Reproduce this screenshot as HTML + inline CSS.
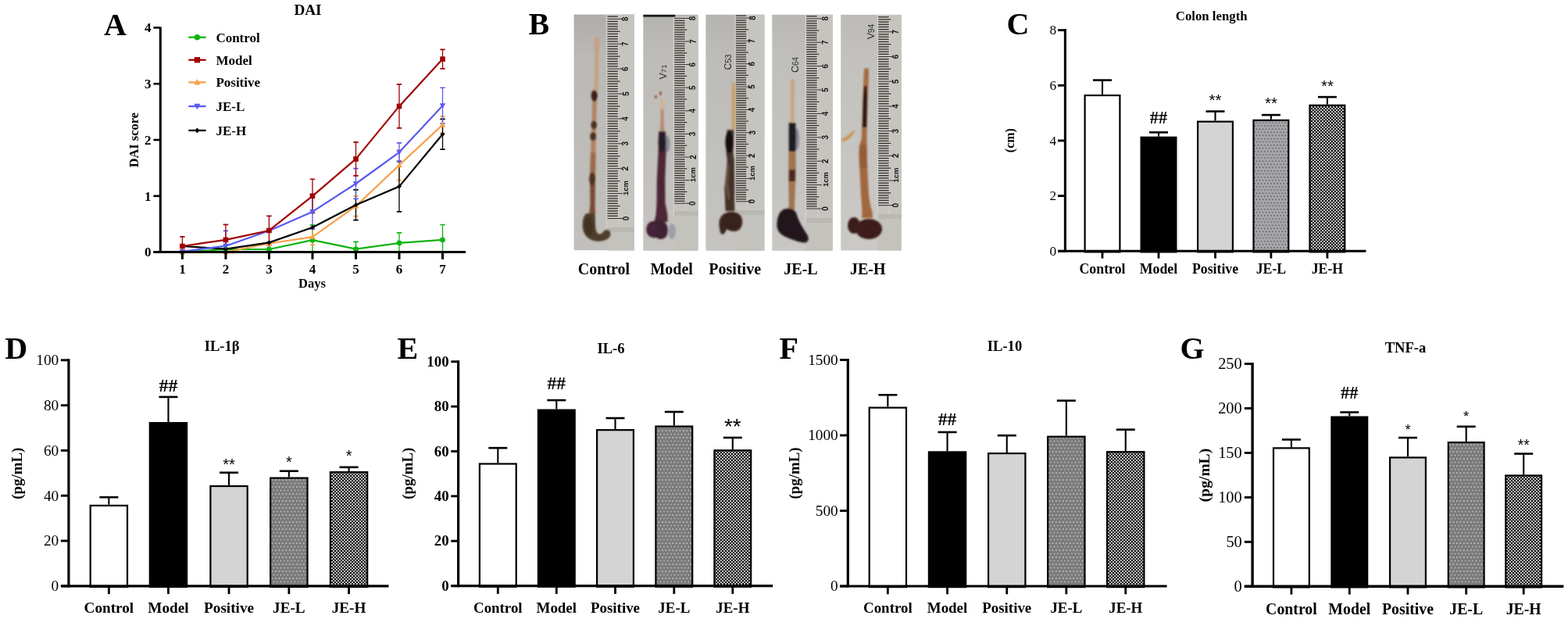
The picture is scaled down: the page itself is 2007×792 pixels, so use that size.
<!DOCTYPE html>
<html><head><meta charset="utf-8"><title>Figure</title>
<style>
html,body{margin:0;padding:0;background:#fff;width:2007px;height:792px;overflow:hidden}
svg{display:block}
text{font-family:"Liberation Serif","Times New Roman",serif}
</style></head><body>
<svg width="2007" height="792" viewBox="0 0 2007 792">

<defs>
<filter id="soft" x="-20%" y="-5%" width="140%" height="110%"><feGaussianBlur stdDeviation="0.9"/></filter>
<clipPath id="clipA"><rect x="205" y="20" width="400" height="302.6"/></clipPath>
<pattern id="dotsC" x="0" y="0" width="4.1" height="4.1" patternUnits="userSpaceOnUse">
 <rect width="4.1" height="4.1" fill="#a6a6aa"/>
 <rect x="0.6" y="0.6" width="1.3" height="1.3" fill="#505055"/>
</pattern>
<pattern id="dotsC2" x="0" y="0" width="4.1" height="8.2" patternUnits="userSpaceOnUse">
 <rect width="4.1" height="8.2" fill="#a6a6aa"/>
 <rect x="0.4" y="0.5" width="1.4" height="1.4" fill="#505055"/>
 <rect x="2.45" y="4.6" width="1.4" height="1.4" fill="#505055"/>
</pattern>
<pattern id="dotsW" x="0" y="0" width="4.5" height="9" patternUnits="userSpaceOnUse">
 <rect width="4.5" height="9" fill="#7c7c7c"/>
 <rect x="1.2" y="1.4" width="1.3" height="1.3" fill="#f4f4f4"/>
 <rect x="3.45" y="5.9" width="1.3" height="1.3" fill="#e0e0e0"/>
</pattern>
<pattern id="check" x="0" y="0" width="4" height="4" patternUnits="userSpaceOnUse">
 <rect width="4" height="4" fill="#bcbcbc"/>
 <rect x="0" y="0" width="2" height="2" fill="#111"/>
 <rect x="2" y="2" width="2" height="2" fill="#111"/>
</pattern>
<linearGradient id="tan" x1="0" y1="0" x2="1" y2="0">
 <stop offset="0" stop-color="#b98a66"/><stop offset="0.5" stop-color="#d8ad8c"/><stop offset="1" stop-color="#b08060"/>
</linearGradient>
</defs>
<rect width="2007" height="792" fill="#fff"/>
<text x="133" y="44.6" font-size="40" font-weight="bold" text-anchor="start" fill="#000">A</text>
<text x="394" y="19.4" font-size="19.2" font-weight="bold" text-anchor="middle" fill="#000">DAI</text>
<g clip-path="url(#clipA)">
<line x1="288.92" y1="329.06" x2="288.92" y2="308.96" stroke="#10b410" stroke-width="1.3"/>
<line x1="285.72" y1="308.96" x2="292.12" y2="308.96" stroke="#10b410" stroke-width="1.7"/>
<line x1="285.72" y1="329.06" x2="292.12" y2="329.06" stroke="#10b410" stroke-width="1.7"/>
<line x1="344.44" y1="328.34" x2="344.44" y2="309.68" stroke="#10b410" stroke-width="1.3"/>
<line x1="341.24" y1="309.68" x2="347.64" y2="309.68" stroke="#10b410" stroke-width="1.7"/>
<line x1="341.24" y1="328.34" x2="347.64" y2="328.34" stroke="#10b410" stroke-width="1.7"/>
<line x1="399.96" y1="326.55" x2="399.96" y2="287.78" stroke="#10b410" stroke-width="1.3"/>
<line x1="396.76" y1="287.78" x2="403.16" y2="287.78" stroke="#10b410" stroke-width="1.7"/>
<line x1="396.76" y1="326.55" x2="403.16" y2="326.55" stroke="#10b410" stroke-width="1.7"/>
<line x1="455.48" y1="327.99" x2="455.48" y2="309.32" stroke="#10b410" stroke-width="1.3"/>
<line x1="452.28" y1="309.32" x2="458.68" y2="309.32" stroke="#10b410" stroke-width="1.7"/>
<line x1="452.28" y1="327.99" x2="458.68" y2="327.99" stroke="#10b410" stroke-width="1.7"/>
<line x1="511" y1="323.82" x2="511" y2="297.97" stroke="#10b410" stroke-width="1.3"/>
<line x1="507.8" y1="297.97" x2="514.2" y2="297.97" stroke="#10b410" stroke-width="1.7"/>
<line x1="507.8" y1="323.82" x2="514.2" y2="323.82" stroke="#10b410" stroke-width="1.7"/>
<line x1="566.52" y1="326.26" x2="566.52" y2="287.49" stroke="#10b410" stroke-width="1.3"/>
<line x1="563.32" y1="287.49" x2="569.72" y2="287.49" stroke="#10b410" stroke-width="1.7"/>
<line x1="563.32" y1="326.26" x2="569.72" y2="326.26" stroke="#10b410" stroke-width="1.7"/>
<line x1="344.44" y1="329.42" x2="344.44" y2="293.52" stroke="#f8a048" stroke-width="1.3"/>
<line x1="341.24" y1="293.52" x2="347.64" y2="293.52" stroke="#f8a048" stroke-width="1.7"/>
<line x1="341.24" y1="329.42" x2="347.64" y2="329.42" stroke="#f8a048" stroke-width="1.7"/>
<line x1="399.96" y1="313.27" x2="399.96" y2="293.16" stroke="#f8a048" stroke-width="1.3"/>
<line x1="396.76" y1="293.16" x2="403.16" y2="293.16" stroke="#f8a048" stroke-width="1.7"/>
<line x1="396.76" y1="313.27" x2="403.16" y2="313.27" stroke="#f8a048" stroke-width="1.7"/>
<line x1="455.48" y1="276.65" x2="455.48" y2="250.8" stroke="#f8a048" stroke-width="1.3"/>
<line x1="452.28" y1="250.8" x2="458.68" y2="250.8" stroke="#f8a048" stroke-width="1.7"/>
<line x1="452.28" y1="276.65" x2="458.68" y2="276.65" stroke="#f8a048" stroke-width="1.7"/>
<line x1="511" y1="230.7" x2="511" y2="191.92" stroke="#f8a048" stroke-width="1.3"/>
<line x1="507.8" y1="191.92" x2="514.2" y2="191.92" stroke="#f8a048" stroke-width="1.7"/>
<line x1="507.8" y1="230.7" x2="514.2" y2="230.7" stroke="#f8a048" stroke-width="1.7"/>
<line x1="566.52" y1="170.38" x2="566.52" y2="148.84" stroke="#f8a048" stroke-width="1.3"/>
<line x1="563.32" y1="148.84" x2="569.72" y2="148.84" stroke="#f8a048" stroke-width="1.7"/>
<line x1="563.32" y1="170.38" x2="569.72" y2="170.38" stroke="#f8a048" stroke-width="1.7"/>
<line x1="455.48" y1="281.67" x2="455.48" y2="242.9" stroke="#000000" stroke-width="1.3"/>
<line x1="452.28" y1="242.9" x2="458.68" y2="242.9" stroke="#000000" stroke-width="1.7"/>
<line x1="452.28" y1="281.67" x2="458.68" y2="281.67" stroke="#000000" stroke-width="1.7"/>
<line x1="511" y1="270.9" x2="511" y2="206.28" stroke="#000000" stroke-width="1.3"/>
<line x1="507.8" y1="206.28" x2="514.2" y2="206.28" stroke="#000000" stroke-width="1.7"/>
<line x1="507.8" y1="270.9" x2="514.2" y2="270.9" stroke="#000000" stroke-width="1.7"/>
<line x1="566.52" y1="191.21" x2="566.52" y2="152.43" stroke="#000000" stroke-width="1.3"/>
<line x1="563.32" y1="152.43" x2="569.72" y2="152.43" stroke="#000000" stroke-width="1.7"/>
<line x1="563.32" y1="191.21" x2="569.72" y2="191.21" stroke="#000000" stroke-width="1.7"/>
<line x1="288.92" y1="334.09" x2="288.92" y2="295.32" stroke="#5a5af2" stroke-width="1.3"/>
<line x1="285.72" y1="295.32" x2="292.12" y2="295.32" stroke="#5a5af2" stroke-width="1.7"/>
<line x1="285.72" y1="334.09" x2="292.12" y2="334.09" stroke="#5a5af2" stroke-width="1.7"/>
<line x1="399.96" y1="293.16" x2="399.96" y2="248.65" stroke="#5a5af2" stroke-width="1.3"/>
<line x1="396.76" y1="248.65" x2="403.16" y2="248.65" stroke="#5a5af2" stroke-width="1.7"/>
<line x1="396.76" y1="293.16" x2="403.16" y2="293.16" stroke="#5a5af2" stroke-width="1.7"/>
<line x1="455.48" y1="254.39" x2="455.48" y2="215.62" stroke="#5a5af2" stroke-width="1.3"/>
<line x1="452.28" y1="215.62" x2="458.68" y2="215.62" stroke="#5a5af2" stroke-width="1.7"/>
<line x1="452.28" y1="254.39" x2="458.68" y2="254.39" stroke="#5a5af2" stroke-width="1.7"/>
<line x1="511" y1="206.64" x2="511" y2="182.95" stroke="#5a5af2" stroke-width="1.3"/>
<line x1="507.8" y1="182.95" x2="514.2" y2="182.95" stroke="#5a5af2" stroke-width="1.7"/>
<line x1="507.8" y1="206.64" x2="514.2" y2="206.64" stroke="#5a5af2" stroke-width="1.7"/>
<line x1="566.52" y1="158.18" x2="566.52" y2="112.23" stroke="#5a5af2" stroke-width="1.3"/>
<line x1="563.32" y1="112.23" x2="569.72" y2="112.23" stroke="#5a5af2" stroke-width="1.7"/>
<line x1="563.32" y1="158.18" x2="569.72" y2="158.18" stroke="#5a5af2" stroke-width="1.7"/>
<line x1="233.4" y1="327.2" x2="233.4" y2="302.78" stroke="#a00000" stroke-width="1.3"/>
<line x1="230.2" y1="302.78" x2="236.6" y2="302.78" stroke="#a00000" stroke-width="1.7"/>
<line x1="230.2" y1="327.2" x2="236.6" y2="327.2" stroke="#a00000" stroke-width="1.7"/>
<line x1="288.92" y1="326.19" x2="288.92" y2="287.42" stroke="#a00000" stroke-width="1.3"/>
<line x1="285.72" y1="287.42" x2="292.12" y2="287.42" stroke="#a00000" stroke-width="1.7"/>
<line x1="285.72" y1="326.19" x2="292.12" y2="326.19" stroke="#a00000" stroke-width="1.7"/>
<line x1="344.44" y1="313.62" x2="344.44" y2="276.29" stroke="#a00000" stroke-width="1.3"/>
<line x1="341.24" y1="276.29" x2="347.64" y2="276.29" stroke="#a00000" stroke-width="1.7"/>
<line x1="341.24" y1="313.62" x2="347.64" y2="313.62" stroke="#a00000" stroke-width="1.7"/>
<line x1="399.96" y1="272.34" x2="399.96" y2="229.26" stroke="#a00000" stroke-width="1.3"/>
<line x1="396.76" y1="229.26" x2="403.16" y2="229.26" stroke="#a00000" stroke-width="1.7"/>
<line x1="396.76" y1="272.34" x2="403.16" y2="272.34" stroke="#a00000" stroke-width="1.7"/>
<line x1="455.48" y1="224.95" x2="455.48" y2="181.87" stroke="#a00000" stroke-width="1.3"/>
<line x1="452.28" y1="181.87" x2="458.68" y2="181.87" stroke="#a00000" stroke-width="1.7"/>
<line x1="452.28" y1="224.95" x2="458.68" y2="224.95" stroke="#a00000" stroke-width="1.7"/>
<line x1="511" y1="163.92" x2="511" y2="107.92" stroke="#a00000" stroke-width="1.3"/>
<line x1="507.8" y1="107.92" x2="514.2" y2="107.92" stroke="#a00000" stroke-width="1.7"/>
<line x1="507.8" y1="163.92" x2="514.2" y2="163.92" stroke="#a00000" stroke-width="1.7"/>
<line x1="566.52" y1="87.81" x2="566.52" y2="63.4" stroke="#a00000" stroke-width="1.3"/>
<line x1="563.32" y1="63.4" x2="569.72" y2="63.4" stroke="#a00000" stroke-width="1.7"/>
<line x1="563.32" y1="87.81" x2="569.72" y2="87.81" stroke="#a00000" stroke-width="1.7"/>
</g>
<polyline points="233.4,322.6 288.92,319.01 344.44,319.01 399.96,307.16 455.48,318.65 511,310.9 566.52,306.88" fill="none" stroke="#10b410" stroke-width="2.2" stroke-linejoin="round"/>
<circle cx="233.4" cy="322.6" r="3.4" fill="#10b410"/>
<circle cx="288.92" cy="319.01" r="3.4" fill="#10b410"/>
<circle cx="344.44" cy="319.01" r="3.4" fill="#10b410"/>
<circle cx="399.96" cy="307.16" r="3.4" fill="#10b410"/>
<circle cx="455.48" cy="318.65" r="3.4" fill="#10b410"/>
<circle cx="511" cy="310.9" r="3.4" fill="#10b410"/>
<circle cx="566.52" cy="306.88" r="3.4" fill="#10b410"/>
<polyline points="233.4,322.6 288.92,322.6 344.44,311.47 399.96,303.21 455.48,263.72 511,211.31 566.52,159.61" fill="none" stroke="#f8a048" stroke-width="2.2" stroke-linejoin="round"/>
<polygon points="233.4,318.8 229.6,325.45 237.2,325.45" fill="#f8a048"/>
<polygon points="288.92,318.8 285.12,325.45 292.72,325.45" fill="#f8a048"/>
<polygon points="344.44,307.67 340.64,314.32 348.24,314.32" fill="#f8a048"/>
<polygon points="399.96,299.41 396.16,306.06 403.76,306.06" fill="#f8a048"/>
<polygon points="455.48,259.92 451.68,266.57 459.28,266.57" fill="#f8a048"/>
<polygon points="511,207.51 507.2,214.16 514.8,214.16" fill="#f8a048"/>
<polygon points="566.52,155.81 562.72,162.46 570.32,162.46" fill="#f8a048"/>
<polyline points="233.4,314.99 288.92,318.58 344.44,310.39 399.96,291.01 455.48,262.29 511,238.59 566.52,171.82" fill="none" stroke="#000000" stroke-width="2.2" stroke-linejoin="round"/>
<polygon points="233.4,311.99 236.4,314.99 233.4,317.99 230.4,314.99" fill="#000000"/>
<polygon points="288.92,315.58 291.92,318.58 288.92,321.58 285.92,318.58" fill="#000000"/>
<polygon points="344.44,307.39 347.44,310.39 344.44,313.39 341.44,310.39" fill="#000000"/>
<polygon points="399.96,288.01 402.96,291.01 399.96,294.01 396.96,291.01" fill="#000000"/>
<polygon points="455.48,259.29 458.48,262.29 455.48,265.29 452.48,262.29" fill="#000000"/>
<polygon points="511,235.59 514,238.59 511,241.59 508,238.59" fill="#000000"/>
<polygon points="566.52,168.82 569.52,171.82 566.52,174.82 563.52,171.82" fill="#000000"/>
<polyline points="233.4,321.88 288.92,314.7 344.44,295.32 399.96,270.9 455.48,235 511,194.8 566.52,135.2" fill="none" stroke="#5a5af2" stroke-width="2.2" stroke-linejoin="round"/>
<polygon points="233.4,325.68 229.6,319.03 237.2,319.03" fill="#5a5af2"/>
<polygon points="288.92,318.5 285.12,311.85 292.72,311.85" fill="#5a5af2"/>
<polygon points="344.44,299.12 340.64,292.47 348.24,292.47" fill="#5a5af2"/>
<polygon points="399.96,274.7 396.16,268.05 403.76,268.05" fill="#5a5af2"/>
<polygon points="455.48,238.8 451.68,232.15 459.28,232.15" fill="#5a5af2"/>
<polygon points="511,198.6 507.2,191.95 514.8,191.95" fill="#5a5af2"/>
<polygon points="566.52,139 562.72,132.35 570.32,132.35" fill="#5a5af2"/>
<polyline points="233.4,314.99 288.92,306.8 344.44,294.96 399.96,250.8 455.48,203.41 511,135.92 566.52,75.61" fill="none" stroke="#a00000" stroke-width="2.2" stroke-linejoin="round"/>
<rect x="230.1" y="311.69" width="6.6" height="6.6" fill="#a00000"/>
<rect x="285.62" y="303.5" width="6.6" height="6.6" fill="#a00000"/>
<rect x="341.14" y="291.66" width="6.6" height="6.6" fill="#a00000"/>
<rect x="396.66" y="247.5" width="6.6" height="6.6" fill="#a00000"/>
<rect x="452.18" y="200.11" width="6.6" height="6.6" fill="#a00000"/>
<rect x="507.7" y="132.62" width="6.6" height="6.6" fill="#a00000"/>
<rect x="563.22" y="72.31" width="6.6" height="6.6" fill="#a00000"/>
<line x1="205.3" y1="34.4" x2="205.3" y2="324.1" stroke="#000" stroke-width="3"/>
<line x1="196.4" y1="322.6" x2="596" y2="322.6" stroke="#000" stroke-width="3"/>
<line x1="196.4" y1="322.6" x2="205.3" y2="322.6" stroke="#000" stroke-width="2.6"/>
<text x="193.6" y="328.4" font-size="17" font-weight="bold" text-anchor="end" fill="#000">0</text>
<line x1="196.4" y1="250.8" x2="205.3" y2="250.8" stroke="#000" stroke-width="2.6"/>
<text x="193.6" y="256.6" font-size="17" font-weight="bold" text-anchor="end" fill="#000">1</text>
<line x1="196.4" y1="179" x2="205.3" y2="179" stroke="#000" stroke-width="2.6"/>
<text x="193.6" y="184.8" font-size="17" font-weight="bold" text-anchor="end" fill="#000">2</text>
<line x1="196.4" y1="107.2" x2="205.3" y2="107.2" stroke="#000" stroke-width="2.6"/>
<text x="193.6" y="113" font-size="17" font-weight="bold" text-anchor="end" fill="#000">3</text>
<line x1="196.4" y1="35.4" x2="205.3" y2="35.4" stroke="#000" stroke-width="2.6"/>
<text x="193.6" y="41.2" font-size="17" font-weight="bold" text-anchor="end" fill="#000">4</text>
<line x1="233.4" y1="322.6" x2="233.4" y2="331.8" stroke="#000" stroke-width="3"/>
<text x="233.4" y="350.2" font-size="17" font-weight="bold" text-anchor="middle" fill="#000">1</text>
<line x1="288.92" y1="322.6" x2="288.92" y2="331.8" stroke="#000" stroke-width="3"/>
<text x="288.92" y="350.2" font-size="17" font-weight="bold" text-anchor="middle" fill="#000">2</text>
<line x1="344.44" y1="322.6" x2="344.44" y2="331.8" stroke="#000" stroke-width="3"/>
<text x="344.44" y="350.2" font-size="17" font-weight="bold" text-anchor="middle" fill="#000">3</text>
<line x1="399.96" y1="322.6" x2="399.96" y2="331.8" stroke="#000" stroke-width="3"/>
<text x="399.96" y="350.2" font-size="17" font-weight="bold" text-anchor="middle" fill="#000">4</text>
<line x1="455.48" y1="322.6" x2="455.48" y2="331.8" stroke="#000" stroke-width="3"/>
<text x="455.48" y="350.2" font-size="17" font-weight="bold" text-anchor="middle" fill="#000">5</text>
<line x1="511" y1="322.6" x2="511" y2="331.8" stroke="#000" stroke-width="3"/>
<text x="511" y="350.2" font-size="17" font-weight="bold" text-anchor="middle" fill="#000">6</text>
<line x1="566.52" y1="322.6" x2="566.52" y2="331.8" stroke="#000" stroke-width="3"/>
<text x="566.52" y="350.2" font-size="17" font-weight="bold" text-anchor="middle" fill="#000">7</text>
<text x="399.5" y="367.8" font-size="16.5" font-weight="bold" text-anchor="middle" fill="#000">Days</text>
<text x="177.4" y="179.2" font-size="16.4" font-weight="bold" text-anchor="middle" fill="#000" transform="rotate(-90 177.4 179.2)">DAI score</text>
<line x1="241.3" y1="47.7" x2="263.6" y2="47.7" stroke="#10b410" stroke-width="2.3"/>
<circle cx="252.4" cy="47.7" r="3.74" fill="#10b410"/>
<text x="276.4" y="53.8" font-size="17" font-weight="bold" text-anchor="start" fill="#000">Control</text>
<line x1="241.3" y1="76.7" x2="263.6" y2="76.7" stroke="#a00000" stroke-width="2.3"/>
<rect x="248.77" y="73.07" width="7.26" height="7.26" fill="#a00000"/>
<text x="276.4" y="82.8" font-size="17" font-weight="bold" text-anchor="start" fill="#000">Model</text>
<line x1="241.3" y1="105.3" x2="263.6" y2="105.3" stroke="#f8a048" stroke-width="2.3"/>
<polygon points="252.4,101.12 248.22,108.44 256.58,108.44" fill="#f8a048"/>
<text x="276.4" y="111.4" font-size="17" font-weight="bold" text-anchor="start" fill="#000">Positive</text>
<line x1="241.3" y1="136" x2="263.6" y2="136" stroke="#5a5af2" stroke-width="2.3"/>
<polygon points="252.4,140.18 248.22,132.87 256.58,132.87" fill="#5a5af2"/>
<text x="276.4" y="142.1" font-size="17" font-weight="bold" text-anchor="start" fill="#000">JE-L</text>
<line x1="241.3" y1="166.9" x2="263.6" y2="166.9" stroke="#000000" stroke-width="2.3"/>
<polygon points="252.4,163.6 255.7,166.9 252.4,170.2 249.1,166.9" fill="#000000"/>
<text x="276.4" y="173" font-size="17" font-weight="bold" text-anchor="start" fill="#000">JE-H</text>
<text x="676.5" y="44.3" font-size="40" font-weight="bold" text-anchor="start" fill="#000">B</text>
<linearGradient id="pg0" x1="0" y1="0" x2="0" y2="1"><stop offset="0" stop-color="#afada9"/><stop offset="0.18" stop-color="#bbb9b5"/><stop offset="1" stop-color="#c2c0bc"/></linearGradient>
<rect x="734.6" y="18.6" width="77.4" height="301.6" fill="url(#pg0)"/>
<linearGradient id="pg1" x1="0" y1="0" x2="0" y2="1"><stop offset="0" stop-color="#b5b3af"/><stop offset="0.18" stop-color="#bebcb8"/><stop offset="1" stop-color="#c6c4c0"/></linearGradient>
<rect x="823.3" y="18.8" width="70.3" height="302" fill="url(#pg1)"/>
<linearGradient id="pg2" x1="0" y1="0" x2="0" y2="1"><stop offset="0" stop-color="#b6b4b0"/><stop offset="0.18" stop-color="#bebcb8"/><stop offset="1" stop-color="#c6c4c0"/></linearGradient>
<rect x="903.4" y="18.8" width="75" height="302" fill="url(#pg2)"/>
<linearGradient id="pg3" x1="0" y1="0" x2="0" y2="1"><stop offset="0" stop-color="#b8b7b4"/><stop offset="0.18" stop-color="#c0bfbc"/><stop offset="1" stop-color="#c8c7c4"/></linearGradient>
<rect x="988.3" y="18.8" width="77.5" height="302" fill="url(#pg3)"/>
<linearGradient id="pg4" x1="0" y1="0" x2="0" y2="1"><stop offset="0" stop-color="#bcbbb8"/><stop offset="0.18" stop-color="#c2c1be"/><stop offset="1" stop-color="#cac9c6"/></linearGradient>
<rect x="1076.2" y="18.9" width="77.6" height="301.6" fill="url(#pg4)"/>
<rect x="776.9" y="18.6" width="35.1" height="278.4" fill="#c6c4bf"/>
<rect x="791.2" y="18.6" width="1" height="272.4" fill="#d4d2cd"/>
<rect x="776.9" y="291" width="35.1" height="6" fill="#bab8b3"/>
<rect x="776.9" y="297" width="35.1" height="23.5" fill="#c4c2bd"/>
<rect x="775.8" y="18.6" width="1.4" height="278.4" fill="#d2d0cb"/>
<line x1="777.4" y1="279.5" x2="796.9" y2="279.5" stroke="#34322e" stroke-width="1"/>
<line x1="777.4" y1="276.31" x2="790.9" y2="276.31" stroke="#34322e" stroke-width="1.3"/>
<line x1="777.4" y1="273.12" x2="790.9" y2="273.12" stroke="#34322e" stroke-width="1.3"/>
<line x1="777.4" y1="269.93" x2="790.9" y2="269.93" stroke="#34322e" stroke-width="1.3"/>
<line x1="777.4" y1="266.74" x2="790.9" y2="266.74" stroke="#34322e" stroke-width="1.3"/>
<line x1="777.4" y1="263.55" x2="793.4" y2="263.55" stroke="#34322e" stroke-width="1.3"/>
<line x1="777.4" y1="260.36" x2="790.9" y2="260.36" stroke="#34322e" stroke-width="1.3"/>
<line x1="777.4" y1="257.17" x2="790.9" y2="257.17" stroke="#34322e" stroke-width="1.3"/>
<line x1="777.4" y1="253.98" x2="790.9" y2="253.98" stroke="#34322e" stroke-width="1.3"/>
<line x1="777.4" y1="250.79" x2="790.9" y2="250.79" stroke="#34322e" stroke-width="1.3"/>
<line x1="777.4" y1="247.6" x2="796.9" y2="247.6" stroke="#34322e" stroke-width="1"/>
<line x1="777.4" y1="244.41" x2="790.9" y2="244.41" stroke="#34322e" stroke-width="1.3"/>
<line x1="777.4" y1="241.22" x2="790.9" y2="241.22" stroke="#34322e" stroke-width="1.3"/>
<line x1="777.4" y1="238.03" x2="790.9" y2="238.03" stroke="#34322e" stroke-width="1.3"/>
<line x1="777.4" y1="234.84" x2="790.9" y2="234.84" stroke="#34322e" stroke-width="1.3"/>
<line x1="777.4" y1="231.65" x2="793.4" y2="231.65" stroke="#34322e" stroke-width="1.3"/>
<line x1="777.4" y1="228.46" x2="790.9" y2="228.46" stroke="#34322e" stroke-width="1.3"/>
<line x1="777.4" y1="225.27" x2="790.9" y2="225.27" stroke="#34322e" stroke-width="1.3"/>
<line x1="777.4" y1="222.08" x2="790.9" y2="222.08" stroke="#34322e" stroke-width="1.3"/>
<line x1="777.4" y1="218.89" x2="790.9" y2="218.89" stroke="#34322e" stroke-width="1.3"/>
<line x1="777.4" y1="215.7" x2="796.9" y2="215.7" stroke="#34322e" stroke-width="1"/>
<line x1="777.4" y1="212.51" x2="790.9" y2="212.51" stroke="#34322e" stroke-width="1.3"/>
<line x1="777.4" y1="209.32" x2="790.9" y2="209.32" stroke="#34322e" stroke-width="1.3"/>
<line x1="777.4" y1="206.13" x2="790.9" y2="206.13" stroke="#34322e" stroke-width="1.3"/>
<line x1="777.4" y1="202.94" x2="790.9" y2="202.94" stroke="#34322e" stroke-width="1.3"/>
<line x1="777.4" y1="199.75" x2="793.4" y2="199.75" stroke="#34322e" stroke-width="1.3"/>
<line x1="777.4" y1="196.56" x2="790.9" y2="196.56" stroke="#34322e" stroke-width="1.3"/>
<line x1="777.4" y1="193.37" x2="790.9" y2="193.37" stroke="#34322e" stroke-width="1.3"/>
<line x1="777.4" y1="190.18" x2="790.9" y2="190.18" stroke="#34322e" stroke-width="1.3"/>
<line x1="777.4" y1="186.99" x2="790.9" y2="186.99" stroke="#34322e" stroke-width="1.3"/>
<line x1="777.4" y1="183.8" x2="796.9" y2="183.8" stroke="#34322e" stroke-width="1"/>
<line x1="777.4" y1="180.61" x2="790.9" y2="180.61" stroke="#34322e" stroke-width="1.3"/>
<line x1="777.4" y1="177.42" x2="790.9" y2="177.42" stroke="#34322e" stroke-width="1.3"/>
<line x1="777.4" y1="174.23" x2="790.9" y2="174.23" stroke="#34322e" stroke-width="1.3"/>
<line x1="777.4" y1="171.04" x2="790.9" y2="171.04" stroke="#34322e" stroke-width="1.3"/>
<line x1="777.4" y1="167.85" x2="793.4" y2="167.85" stroke="#34322e" stroke-width="1.3"/>
<line x1="777.4" y1="164.66" x2="790.9" y2="164.66" stroke="#34322e" stroke-width="1.3"/>
<line x1="777.4" y1="161.47" x2="790.9" y2="161.47" stroke="#34322e" stroke-width="1.3"/>
<line x1="777.4" y1="158.28" x2="790.9" y2="158.28" stroke="#34322e" stroke-width="1.3"/>
<line x1="777.4" y1="155.09" x2="790.9" y2="155.09" stroke="#34322e" stroke-width="1.3"/>
<line x1="777.4" y1="151.9" x2="796.9" y2="151.9" stroke="#34322e" stroke-width="1"/>
<line x1="777.4" y1="148.71" x2="790.9" y2="148.71" stroke="#34322e" stroke-width="1.3"/>
<line x1="777.4" y1="145.52" x2="790.9" y2="145.52" stroke="#34322e" stroke-width="1.3"/>
<line x1="777.4" y1="142.33" x2="790.9" y2="142.33" stroke="#34322e" stroke-width="1.3"/>
<line x1="777.4" y1="139.14" x2="790.9" y2="139.14" stroke="#34322e" stroke-width="1.3"/>
<line x1="777.4" y1="135.95" x2="793.4" y2="135.95" stroke="#34322e" stroke-width="1.3"/>
<line x1="777.4" y1="132.76" x2="790.9" y2="132.76" stroke="#34322e" stroke-width="1.3"/>
<line x1="777.4" y1="129.57" x2="790.9" y2="129.57" stroke="#34322e" stroke-width="1.3"/>
<line x1="777.4" y1="126.38" x2="790.9" y2="126.38" stroke="#34322e" stroke-width="1.3"/>
<line x1="777.4" y1="123.19" x2="790.9" y2="123.19" stroke="#34322e" stroke-width="1.3"/>
<line x1="777.4" y1="120" x2="796.9" y2="120" stroke="#34322e" stroke-width="1"/>
<line x1="777.4" y1="116.81" x2="790.9" y2="116.81" stroke="#34322e" stroke-width="1.3"/>
<line x1="777.4" y1="113.62" x2="790.9" y2="113.62" stroke="#34322e" stroke-width="1.3"/>
<line x1="777.4" y1="110.43" x2="790.9" y2="110.43" stroke="#34322e" stroke-width="1.3"/>
<line x1="777.4" y1="107.24" x2="790.9" y2="107.24" stroke="#34322e" stroke-width="1.3"/>
<line x1="777.4" y1="104.05" x2="793.4" y2="104.05" stroke="#34322e" stroke-width="1.3"/>
<line x1="777.4" y1="100.86" x2="790.9" y2="100.86" stroke="#34322e" stroke-width="1.3"/>
<line x1="777.4" y1="97.67" x2="790.9" y2="97.67" stroke="#34322e" stroke-width="1.3"/>
<line x1="777.4" y1="94.48" x2="790.9" y2="94.48" stroke="#34322e" stroke-width="1.3"/>
<line x1="777.4" y1="91.29" x2="790.9" y2="91.29" stroke="#34322e" stroke-width="1.3"/>
<line x1="777.4" y1="88.1" x2="796.9" y2="88.1" stroke="#34322e" stroke-width="1"/>
<line x1="777.4" y1="84.91" x2="790.9" y2="84.91" stroke="#34322e" stroke-width="1.3"/>
<line x1="777.4" y1="81.72" x2="790.9" y2="81.72" stroke="#34322e" stroke-width="1.3"/>
<line x1="777.4" y1="78.53" x2="790.9" y2="78.53" stroke="#34322e" stroke-width="1.3"/>
<line x1="777.4" y1="75.34" x2="790.9" y2="75.34" stroke="#34322e" stroke-width="1.3"/>
<line x1="777.4" y1="72.15" x2="793.4" y2="72.15" stroke="#34322e" stroke-width="1.3"/>
<line x1="777.4" y1="68.96" x2="790.9" y2="68.96" stroke="#34322e" stroke-width="1.3"/>
<line x1="777.4" y1="65.77" x2="790.9" y2="65.77" stroke="#34322e" stroke-width="1.3"/>
<line x1="777.4" y1="62.58" x2="790.9" y2="62.58" stroke="#34322e" stroke-width="1.3"/>
<line x1="777.4" y1="59.39" x2="790.9" y2="59.39" stroke="#34322e" stroke-width="1.3"/>
<line x1="777.4" y1="56.2" x2="796.9" y2="56.2" stroke="#34322e" stroke-width="1"/>
<line x1="777.4" y1="53.01" x2="790.9" y2="53.01" stroke="#34322e" stroke-width="1.3"/>
<line x1="777.4" y1="49.82" x2="790.9" y2="49.82" stroke="#34322e" stroke-width="1.3"/>
<line x1="777.4" y1="46.63" x2="790.9" y2="46.63" stroke="#34322e" stroke-width="1.3"/>
<line x1="777.4" y1="43.44" x2="790.9" y2="43.44" stroke="#34322e" stroke-width="1.3"/>
<line x1="777.4" y1="40.25" x2="793.4" y2="40.25" stroke="#34322e" stroke-width="1.3"/>
<line x1="777.4" y1="37.06" x2="790.9" y2="37.06" stroke="#34322e" stroke-width="1.3"/>
<line x1="777.4" y1="33.87" x2="790.9" y2="33.87" stroke="#34322e" stroke-width="1.3"/>
<line x1="777.4" y1="30.68" x2="790.9" y2="30.68" stroke="#34322e" stroke-width="1.3"/>
<line x1="777.4" y1="27.49" x2="790.9" y2="27.49" stroke="#34322e" stroke-width="1.3"/>
<line x1="777.4" y1="24.3" x2="796.9" y2="24.3" stroke="#34322e" stroke-width="1"/>
<line x1="777.4" y1="21.11" x2="790.9" y2="21.11" stroke="#34322e" stroke-width="1.3"/>
<text x="801" y="279.5" font-size="10" font-weight="bold" text-anchor="middle" fill="#161616" transform="rotate(-90 801 279.5)" style='font-family:"Liberation Sans", Arial, sans-serif' dominant-baseline="central">0</text>
<text x="801" y="250.1" font-size="9.5" font-weight="bold" text-anchor="start" fill="#161616" transform="rotate(-90 801 250.1)" style='font-family:"Liberation Sans", Arial, sans-serif' dominant-baseline="central">1cm</text>
<text x="801" y="215.7" font-size="10" font-weight="bold" text-anchor="middle" fill="#161616" transform="rotate(-90 801 215.7)" style='font-family:"Liberation Sans", Arial, sans-serif' dominant-baseline="central">2</text>
<text x="801" y="183.8" font-size="10" font-weight="bold" text-anchor="middle" fill="#161616" transform="rotate(-90 801 183.8)" style='font-family:"Liberation Sans", Arial, sans-serif' dominant-baseline="central">3</text>
<text x="801" y="151.9" font-size="10" font-weight="bold" text-anchor="middle" fill="#161616" transform="rotate(-90 801 151.9)" style='font-family:"Liberation Sans", Arial, sans-serif' dominant-baseline="central">4</text>
<text x="801" y="120" font-size="10" font-weight="bold" text-anchor="middle" fill="#161616" transform="rotate(-90 801 120)" style='font-family:"Liberation Sans", Arial, sans-serif' dominant-baseline="central">5</text>
<text x="801" y="88.1" font-size="10" font-weight="bold" text-anchor="middle" fill="#161616" transform="rotate(-90 801 88.1)" style='font-family:"Liberation Sans", Arial, sans-serif' dominant-baseline="central">6</text>
<text x="801" y="56.2" font-size="10" font-weight="bold" text-anchor="middle" fill="#161616" transform="rotate(-90 801 56.2)" style='font-family:"Liberation Sans", Arial, sans-serif' dominant-baseline="central">7</text>
<text x="801" y="24.3" font-size="10" font-weight="bold" text-anchor="middle" fill="#161616" transform="rotate(-90 801 24.3)" style='font-family:"Liberation Sans", Arial, sans-serif' dominant-baseline="central">8</text>
<rect x="862.7" y="21" width="30.9" height="255" fill="#c6c4bf"/>
<rect x="877" y="21" width="1" height="249" fill="#d4d2cd"/>
<rect x="862.7" y="270" width="30.9" height="6" fill="#bab8b3"/>
<rect x="862.7" y="276" width="30.9" height="44.5" fill="#c4c2bd"/>
<rect x="861.6" y="21" width="1.4" height="255" fill="#d2d0cb"/>
<line x1="863.2" y1="260.2" x2="882.7" y2="260.2" stroke="#34322e" stroke-width="1"/>
<line x1="863.2" y1="257.24" x2="876.7" y2="257.24" stroke="#34322e" stroke-width="1.3"/>
<line x1="863.2" y1="254.28" x2="876.7" y2="254.28" stroke="#34322e" stroke-width="1.3"/>
<line x1="863.2" y1="251.32" x2="876.7" y2="251.32" stroke="#34322e" stroke-width="1.3"/>
<line x1="863.2" y1="248.36" x2="876.7" y2="248.36" stroke="#34322e" stroke-width="1.3"/>
<line x1="863.2" y1="245.4" x2="879.2" y2="245.4" stroke="#34322e" stroke-width="1.3"/>
<line x1="863.2" y1="242.44" x2="876.7" y2="242.44" stroke="#34322e" stroke-width="1.3"/>
<line x1="863.2" y1="239.48" x2="876.7" y2="239.48" stroke="#34322e" stroke-width="1.3"/>
<line x1="863.2" y1="236.52" x2="876.7" y2="236.52" stroke="#34322e" stroke-width="1.3"/>
<line x1="863.2" y1="233.56" x2="876.7" y2="233.56" stroke="#34322e" stroke-width="1.3"/>
<line x1="863.2" y1="230.6" x2="882.7" y2="230.6" stroke="#34322e" stroke-width="1"/>
<line x1="863.2" y1="227.64" x2="876.7" y2="227.64" stroke="#34322e" stroke-width="1.3"/>
<line x1="863.2" y1="224.68" x2="876.7" y2="224.68" stroke="#34322e" stroke-width="1.3"/>
<line x1="863.2" y1="221.72" x2="876.7" y2="221.72" stroke="#34322e" stroke-width="1.3"/>
<line x1="863.2" y1="218.76" x2="876.7" y2="218.76" stroke="#34322e" stroke-width="1.3"/>
<line x1="863.2" y1="215.8" x2="879.2" y2="215.8" stroke="#34322e" stroke-width="1.3"/>
<line x1="863.2" y1="212.84" x2="876.7" y2="212.84" stroke="#34322e" stroke-width="1.3"/>
<line x1="863.2" y1="209.88" x2="876.7" y2="209.88" stroke="#34322e" stroke-width="1.3"/>
<line x1="863.2" y1="206.92" x2="876.7" y2="206.92" stroke="#34322e" stroke-width="1.3"/>
<line x1="863.2" y1="203.96" x2="876.7" y2="203.96" stroke="#34322e" stroke-width="1.3"/>
<line x1="863.2" y1="201" x2="882.7" y2="201" stroke="#34322e" stroke-width="1"/>
<line x1="863.2" y1="198.04" x2="876.7" y2="198.04" stroke="#34322e" stroke-width="1.3"/>
<line x1="863.2" y1="195.08" x2="876.7" y2="195.08" stroke="#34322e" stroke-width="1.3"/>
<line x1="863.2" y1="192.12" x2="876.7" y2="192.12" stroke="#34322e" stroke-width="1.3"/>
<line x1="863.2" y1="189.16" x2="876.7" y2="189.16" stroke="#34322e" stroke-width="1.3"/>
<line x1="863.2" y1="186.2" x2="879.2" y2="186.2" stroke="#34322e" stroke-width="1.3"/>
<line x1="863.2" y1="183.24" x2="876.7" y2="183.24" stroke="#34322e" stroke-width="1.3"/>
<line x1="863.2" y1="180.28" x2="876.7" y2="180.28" stroke="#34322e" stroke-width="1.3"/>
<line x1="863.2" y1="177.32" x2="876.7" y2="177.32" stroke="#34322e" stroke-width="1.3"/>
<line x1="863.2" y1="174.36" x2="876.7" y2="174.36" stroke="#34322e" stroke-width="1.3"/>
<line x1="863.2" y1="171.4" x2="882.7" y2="171.4" stroke="#34322e" stroke-width="1"/>
<line x1="863.2" y1="168.44" x2="876.7" y2="168.44" stroke="#34322e" stroke-width="1.3"/>
<line x1="863.2" y1="165.48" x2="876.7" y2="165.48" stroke="#34322e" stroke-width="1.3"/>
<line x1="863.2" y1="162.52" x2="876.7" y2="162.52" stroke="#34322e" stroke-width="1.3"/>
<line x1="863.2" y1="159.56" x2="876.7" y2="159.56" stroke="#34322e" stroke-width="1.3"/>
<line x1="863.2" y1="156.6" x2="879.2" y2="156.6" stroke="#34322e" stroke-width="1.3"/>
<line x1="863.2" y1="153.64" x2="876.7" y2="153.64" stroke="#34322e" stroke-width="1.3"/>
<line x1="863.2" y1="150.68" x2="876.7" y2="150.68" stroke="#34322e" stroke-width="1.3"/>
<line x1="863.2" y1="147.72" x2="876.7" y2="147.72" stroke="#34322e" stroke-width="1.3"/>
<line x1="863.2" y1="144.76" x2="876.7" y2="144.76" stroke="#34322e" stroke-width="1.3"/>
<line x1="863.2" y1="141.8" x2="882.7" y2="141.8" stroke="#34322e" stroke-width="1"/>
<line x1="863.2" y1="138.84" x2="876.7" y2="138.84" stroke="#34322e" stroke-width="1.3"/>
<line x1="863.2" y1="135.88" x2="876.7" y2="135.88" stroke="#34322e" stroke-width="1.3"/>
<line x1="863.2" y1="132.92" x2="876.7" y2="132.92" stroke="#34322e" stroke-width="1.3"/>
<line x1="863.2" y1="129.96" x2="876.7" y2="129.96" stroke="#34322e" stroke-width="1.3"/>
<line x1="863.2" y1="127" x2="879.2" y2="127" stroke="#34322e" stroke-width="1.3"/>
<line x1="863.2" y1="124.04" x2="876.7" y2="124.04" stroke="#34322e" stroke-width="1.3"/>
<line x1="863.2" y1="121.08" x2="876.7" y2="121.08" stroke="#34322e" stroke-width="1.3"/>
<line x1="863.2" y1="118.12" x2="876.7" y2="118.12" stroke="#34322e" stroke-width="1.3"/>
<line x1="863.2" y1="115.16" x2="876.7" y2="115.16" stroke="#34322e" stroke-width="1.3"/>
<line x1="863.2" y1="112.2" x2="882.7" y2="112.2" stroke="#34322e" stroke-width="1"/>
<line x1="863.2" y1="109.24" x2="876.7" y2="109.24" stroke="#34322e" stroke-width="1.3"/>
<line x1="863.2" y1="106.28" x2="876.7" y2="106.28" stroke="#34322e" stroke-width="1.3"/>
<line x1="863.2" y1="103.32" x2="876.7" y2="103.32" stroke="#34322e" stroke-width="1.3"/>
<line x1="863.2" y1="100.36" x2="876.7" y2="100.36" stroke="#34322e" stroke-width="1.3"/>
<line x1="863.2" y1="97.4" x2="879.2" y2="97.4" stroke="#34322e" stroke-width="1.3"/>
<line x1="863.2" y1="94.44" x2="876.7" y2="94.44" stroke="#34322e" stroke-width="1.3"/>
<line x1="863.2" y1="91.48" x2="876.7" y2="91.48" stroke="#34322e" stroke-width="1.3"/>
<line x1="863.2" y1="88.52" x2="876.7" y2="88.52" stroke="#34322e" stroke-width="1.3"/>
<line x1="863.2" y1="85.56" x2="876.7" y2="85.56" stroke="#34322e" stroke-width="1.3"/>
<line x1="863.2" y1="82.6" x2="882.7" y2="82.6" stroke="#34322e" stroke-width="1"/>
<line x1="863.2" y1="79.64" x2="876.7" y2="79.64" stroke="#34322e" stroke-width="1.3"/>
<line x1="863.2" y1="76.68" x2="876.7" y2="76.68" stroke="#34322e" stroke-width="1.3"/>
<line x1="863.2" y1="73.72" x2="876.7" y2="73.72" stroke="#34322e" stroke-width="1.3"/>
<line x1="863.2" y1="70.76" x2="876.7" y2="70.76" stroke="#34322e" stroke-width="1.3"/>
<line x1="863.2" y1="67.8" x2="879.2" y2="67.8" stroke="#34322e" stroke-width="1.3"/>
<line x1="863.2" y1="64.84" x2="876.7" y2="64.84" stroke="#34322e" stroke-width="1.3"/>
<line x1="863.2" y1="61.88" x2="876.7" y2="61.88" stroke="#34322e" stroke-width="1.3"/>
<line x1="863.2" y1="58.92" x2="876.7" y2="58.92" stroke="#34322e" stroke-width="1.3"/>
<line x1="863.2" y1="55.96" x2="876.7" y2="55.96" stroke="#34322e" stroke-width="1.3"/>
<line x1="863.2" y1="53" x2="882.7" y2="53" stroke="#34322e" stroke-width="1"/>
<line x1="863.2" y1="50.04" x2="876.7" y2="50.04" stroke="#34322e" stroke-width="1.3"/>
<line x1="863.2" y1="47.08" x2="876.7" y2="47.08" stroke="#34322e" stroke-width="1.3"/>
<line x1="863.2" y1="44.12" x2="876.7" y2="44.12" stroke="#34322e" stroke-width="1.3"/>
<line x1="863.2" y1="41.16" x2="876.7" y2="41.16" stroke="#34322e" stroke-width="1.3"/>
<line x1="863.2" y1="38.2" x2="879.2" y2="38.2" stroke="#34322e" stroke-width="1.3"/>
<line x1="863.2" y1="35.24" x2="876.7" y2="35.24" stroke="#34322e" stroke-width="1.3"/>
<line x1="863.2" y1="32.28" x2="876.7" y2="32.28" stroke="#34322e" stroke-width="1.3"/>
<line x1="863.2" y1="29.32" x2="876.7" y2="29.32" stroke="#34322e" stroke-width="1.3"/>
<line x1="863.2" y1="26.36" x2="876.7" y2="26.36" stroke="#34322e" stroke-width="1.3"/>
<line x1="863.2" y1="23.4" x2="882.7" y2="23.4" stroke="#34322e" stroke-width="1"/>
<text x="887" y="260.2" font-size="10" font-weight="bold" text-anchor="middle" fill="#161616" transform="rotate(-90 887 260.2)" style='font-family:"Liberation Sans", Arial, sans-serif' dominant-baseline="central">0</text>
<text x="887" y="233.1" font-size="9.5" font-weight="bold" text-anchor="start" fill="#161616" transform="rotate(-90 887 233.1)" style='font-family:"Liberation Sans", Arial, sans-serif' dominant-baseline="central">1cm</text>
<text x="887" y="201" font-size="10" font-weight="bold" text-anchor="middle" fill="#161616" transform="rotate(-90 887 201)" style='font-family:"Liberation Sans", Arial, sans-serif' dominant-baseline="central">2</text>
<text x="887" y="171.4" font-size="10" font-weight="bold" text-anchor="middle" fill="#161616" transform="rotate(-90 887 171.4)" style='font-family:"Liberation Sans", Arial, sans-serif' dominant-baseline="central">3</text>
<text x="887" y="141.8" font-size="10" font-weight="bold" text-anchor="middle" fill="#161616" transform="rotate(-90 887 141.8)" style='font-family:"Liberation Sans", Arial, sans-serif' dominant-baseline="central">4</text>
<text x="887" y="112.2" font-size="10" font-weight="bold" text-anchor="middle" fill="#161616" transform="rotate(-90 887 112.2)" style='font-family:"Liberation Sans", Arial, sans-serif' dominant-baseline="central">5</text>
<text x="887" y="82.6" font-size="10" font-weight="bold" text-anchor="middle" fill="#161616" transform="rotate(-90 887 82.6)" style='font-family:"Liberation Sans", Arial, sans-serif' dominant-baseline="central">6</text>
<text x="887" y="53" font-size="10" font-weight="bold" text-anchor="middle" fill="#161616" transform="rotate(-90 887 53)" style='font-family:"Liberation Sans", Arial, sans-serif' dominant-baseline="central">7</text>
<text x="887" y="23.4" font-size="10" font-weight="bold" text-anchor="middle" fill="#161616" transform="rotate(-90 887 23.4)" style='font-family:"Liberation Sans", Arial, sans-serif' dominant-baseline="central">8</text>
<rect x="941.3" y="18.8" width="37.1" height="256.2" fill="#c6c4bf"/>
<rect x="955.6" y="18.8" width="1" height="250.2" fill="#d4d2cd"/>
<rect x="941.3" y="269" width="37.1" height="6" fill="#bab8b3"/>
<rect x="941.3" y="275" width="37.1" height="45.5" fill="#c4c2bd"/>
<rect x="940.2" y="18.8" width="1.4" height="256.2" fill="#d2d0cb"/>
<line x1="941.8" y1="257.8" x2="961.3" y2="257.8" stroke="#34322e" stroke-width="1"/>
<line x1="941.8" y1="254.87" x2="955.3" y2="254.87" stroke="#34322e" stroke-width="1.3"/>
<line x1="941.8" y1="251.93" x2="955.3" y2="251.93" stroke="#34322e" stroke-width="1.3"/>
<line x1="941.8" y1="249" x2="955.3" y2="249" stroke="#34322e" stroke-width="1.3"/>
<line x1="941.8" y1="246.06" x2="955.3" y2="246.06" stroke="#34322e" stroke-width="1.3"/>
<line x1="941.8" y1="243.12" x2="957.8" y2="243.12" stroke="#34322e" stroke-width="1.3"/>
<line x1="941.8" y1="240.19" x2="955.3" y2="240.19" stroke="#34322e" stroke-width="1.3"/>
<line x1="941.8" y1="237.25" x2="955.3" y2="237.25" stroke="#34322e" stroke-width="1.3"/>
<line x1="941.8" y1="234.32" x2="955.3" y2="234.32" stroke="#34322e" stroke-width="1.3"/>
<line x1="941.8" y1="231.39" x2="955.3" y2="231.39" stroke="#34322e" stroke-width="1.3"/>
<line x1="941.8" y1="228.45" x2="961.3" y2="228.45" stroke="#34322e" stroke-width="1"/>
<line x1="941.8" y1="225.52" x2="955.3" y2="225.52" stroke="#34322e" stroke-width="1.3"/>
<line x1="941.8" y1="222.58" x2="955.3" y2="222.58" stroke="#34322e" stroke-width="1.3"/>
<line x1="941.8" y1="219.65" x2="955.3" y2="219.65" stroke="#34322e" stroke-width="1.3"/>
<line x1="941.8" y1="216.71" x2="955.3" y2="216.71" stroke="#34322e" stroke-width="1.3"/>
<line x1="941.8" y1="213.78" x2="957.8" y2="213.78" stroke="#34322e" stroke-width="1.3"/>
<line x1="941.8" y1="210.84" x2="955.3" y2="210.84" stroke="#34322e" stroke-width="1.3"/>
<line x1="941.8" y1="207.91" x2="955.3" y2="207.91" stroke="#34322e" stroke-width="1.3"/>
<line x1="941.8" y1="204.97" x2="955.3" y2="204.97" stroke="#34322e" stroke-width="1.3"/>
<line x1="941.8" y1="202.04" x2="955.3" y2="202.04" stroke="#34322e" stroke-width="1.3"/>
<line x1="941.8" y1="199.1" x2="961.3" y2="199.1" stroke="#34322e" stroke-width="1"/>
<line x1="941.8" y1="196.17" x2="955.3" y2="196.17" stroke="#34322e" stroke-width="1.3"/>
<line x1="941.8" y1="193.23" x2="955.3" y2="193.23" stroke="#34322e" stroke-width="1.3"/>
<line x1="941.8" y1="190.3" x2="955.3" y2="190.3" stroke="#34322e" stroke-width="1.3"/>
<line x1="941.8" y1="187.36" x2="955.3" y2="187.36" stroke="#34322e" stroke-width="1.3"/>
<line x1="941.8" y1="184.43" x2="957.8" y2="184.43" stroke="#34322e" stroke-width="1.3"/>
<line x1="941.8" y1="181.49" x2="955.3" y2="181.49" stroke="#34322e" stroke-width="1.3"/>
<line x1="941.8" y1="178.56" x2="955.3" y2="178.56" stroke="#34322e" stroke-width="1.3"/>
<line x1="941.8" y1="175.62" x2="955.3" y2="175.62" stroke="#34322e" stroke-width="1.3"/>
<line x1="941.8" y1="172.69" x2="955.3" y2="172.69" stroke="#34322e" stroke-width="1.3"/>
<line x1="941.8" y1="169.75" x2="961.3" y2="169.75" stroke="#34322e" stroke-width="1"/>
<line x1="941.8" y1="166.81" x2="955.3" y2="166.81" stroke="#34322e" stroke-width="1.3"/>
<line x1="941.8" y1="163.88" x2="955.3" y2="163.88" stroke="#34322e" stroke-width="1.3"/>
<line x1="941.8" y1="160.94" x2="955.3" y2="160.94" stroke="#34322e" stroke-width="1.3"/>
<line x1="941.8" y1="158.01" x2="955.3" y2="158.01" stroke="#34322e" stroke-width="1.3"/>
<line x1="941.8" y1="155.07" x2="957.8" y2="155.07" stroke="#34322e" stroke-width="1.3"/>
<line x1="941.8" y1="152.14" x2="955.3" y2="152.14" stroke="#34322e" stroke-width="1.3"/>
<line x1="941.8" y1="149.21" x2="955.3" y2="149.21" stroke="#34322e" stroke-width="1.3"/>
<line x1="941.8" y1="146.27" x2="955.3" y2="146.27" stroke="#34322e" stroke-width="1.3"/>
<line x1="941.8" y1="143.34" x2="955.3" y2="143.34" stroke="#34322e" stroke-width="1.3"/>
<line x1="941.8" y1="140.4" x2="961.3" y2="140.4" stroke="#34322e" stroke-width="1"/>
<line x1="941.8" y1="137.47" x2="955.3" y2="137.47" stroke="#34322e" stroke-width="1.3"/>
<line x1="941.8" y1="134.53" x2="955.3" y2="134.53" stroke="#34322e" stroke-width="1.3"/>
<line x1="941.8" y1="131.6" x2="955.3" y2="131.6" stroke="#34322e" stroke-width="1.3"/>
<line x1="941.8" y1="128.66" x2="955.3" y2="128.66" stroke="#34322e" stroke-width="1.3"/>
<line x1="941.8" y1="125.73" x2="957.8" y2="125.73" stroke="#34322e" stroke-width="1.3"/>
<line x1="941.8" y1="122.79" x2="955.3" y2="122.79" stroke="#34322e" stroke-width="1.3"/>
<line x1="941.8" y1="119.86" x2="955.3" y2="119.86" stroke="#34322e" stroke-width="1.3"/>
<line x1="941.8" y1="116.92" x2="955.3" y2="116.92" stroke="#34322e" stroke-width="1.3"/>
<line x1="941.8" y1="113.99" x2="955.3" y2="113.99" stroke="#34322e" stroke-width="1.3"/>
<line x1="941.8" y1="111.05" x2="961.3" y2="111.05" stroke="#34322e" stroke-width="1"/>
<line x1="941.8" y1="108.12" x2="955.3" y2="108.12" stroke="#34322e" stroke-width="1.3"/>
<line x1="941.8" y1="105.18" x2="955.3" y2="105.18" stroke="#34322e" stroke-width="1.3"/>
<line x1="941.8" y1="102.25" x2="955.3" y2="102.25" stroke="#34322e" stroke-width="1.3"/>
<line x1="941.8" y1="99.31" x2="955.3" y2="99.31" stroke="#34322e" stroke-width="1.3"/>
<line x1="941.8" y1="96.38" x2="957.8" y2="96.38" stroke="#34322e" stroke-width="1.3"/>
<line x1="941.8" y1="93.44" x2="955.3" y2="93.44" stroke="#34322e" stroke-width="1.3"/>
<line x1="941.8" y1="90.5" x2="955.3" y2="90.5" stroke="#34322e" stroke-width="1.3"/>
<line x1="941.8" y1="87.57" x2="955.3" y2="87.57" stroke="#34322e" stroke-width="1.3"/>
<line x1="941.8" y1="84.64" x2="955.3" y2="84.64" stroke="#34322e" stroke-width="1.3"/>
<line x1="941.8" y1="81.7" x2="961.3" y2="81.7" stroke="#34322e" stroke-width="1"/>
<line x1="941.8" y1="78.77" x2="955.3" y2="78.77" stroke="#34322e" stroke-width="1.3"/>
<line x1="941.8" y1="75.83" x2="955.3" y2="75.83" stroke="#34322e" stroke-width="1.3"/>
<line x1="941.8" y1="72.9" x2="955.3" y2="72.9" stroke="#34322e" stroke-width="1.3"/>
<line x1="941.8" y1="69.96" x2="955.3" y2="69.96" stroke="#34322e" stroke-width="1.3"/>
<line x1="941.8" y1="67.03" x2="957.8" y2="67.03" stroke="#34322e" stroke-width="1.3"/>
<line x1="941.8" y1="64.09" x2="955.3" y2="64.09" stroke="#34322e" stroke-width="1.3"/>
<line x1="941.8" y1="61.16" x2="955.3" y2="61.16" stroke="#34322e" stroke-width="1.3"/>
<line x1="941.8" y1="58.22" x2="955.3" y2="58.22" stroke="#34322e" stroke-width="1.3"/>
<line x1="941.8" y1="55.28" x2="955.3" y2="55.28" stroke="#34322e" stroke-width="1.3"/>
<line x1="941.8" y1="52.35" x2="961.3" y2="52.35" stroke="#34322e" stroke-width="1"/>
<line x1="941.8" y1="49.42" x2="955.3" y2="49.42" stroke="#34322e" stroke-width="1.3"/>
<line x1="941.8" y1="46.48" x2="955.3" y2="46.48" stroke="#34322e" stroke-width="1.3"/>
<line x1="941.8" y1="43.55" x2="955.3" y2="43.55" stroke="#34322e" stroke-width="1.3"/>
<line x1="941.8" y1="40.61" x2="955.3" y2="40.61" stroke="#34322e" stroke-width="1.3"/>
<line x1="941.8" y1="37.68" x2="957.8" y2="37.68" stroke="#34322e" stroke-width="1.3"/>
<line x1="941.8" y1="34.74" x2="955.3" y2="34.74" stroke="#34322e" stroke-width="1.3"/>
<line x1="941.8" y1="31.81" x2="955.3" y2="31.81" stroke="#34322e" stroke-width="1.3"/>
<line x1="941.8" y1="28.87" x2="955.3" y2="28.87" stroke="#34322e" stroke-width="1.3"/>
<line x1="941.8" y1="25.94" x2="955.3" y2="25.94" stroke="#34322e" stroke-width="1.3"/>
<line x1="941.8" y1="23" x2="961.3" y2="23" stroke="#34322e" stroke-width="1"/>
<line x1="941.8" y1="20.06" x2="955.3" y2="20.06" stroke="#34322e" stroke-width="1.3"/>
<text x="963" y="257.8" font-size="10" font-weight="bold" text-anchor="middle" fill="#161616" transform="rotate(-90 963 257.8)" style='font-family:"Liberation Sans", Arial, sans-serif' dominant-baseline="central">0</text>
<text x="963" y="230.95" font-size="9.5" font-weight="bold" text-anchor="start" fill="#161616" transform="rotate(-90 963 230.95)" style='font-family:"Liberation Sans", Arial, sans-serif' dominant-baseline="central">1cm</text>
<text x="963" y="199.1" font-size="10" font-weight="bold" text-anchor="middle" fill="#161616" transform="rotate(-90 963 199.1)" style='font-family:"Liberation Sans", Arial, sans-serif' dominant-baseline="central">2</text>
<text x="963" y="169.75" font-size="10" font-weight="bold" text-anchor="middle" fill="#161616" transform="rotate(-90 963 169.75)" style='font-family:"Liberation Sans", Arial, sans-serif' dominant-baseline="central">3</text>
<text x="963" y="140.4" font-size="10" font-weight="bold" text-anchor="middle" fill="#161616" transform="rotate(-90 963 140.4)" style='font-family:"Liberation Sans", Arial, sans-serif' dominant-baseline="central">4</text>
<text x="963" y="111.05" font-size="10" font-weight="bold" text-anchor="middle" fill="#161616" transform="rotate(-90 963 111.05)" style='font-family:"Liberation Sans", Arial, sans-serif' dominant-baseline="central">5</text>
<text x="963" y="81.7" font-size="10" font-weight="bold" text-anchor="middle" fill="#161616" transform="rotate(-90 963 81.7)" style='font-family:"Liberation Sans", Arial, sans-serif' dominant-baseline="central">6</text>
<text x="963" y="52.35" font-size="10" font-weight="bold" text-anchor="middle" fill="#161616" transform="rotate(-90 963 52.35)" style='font-family:"Liberation Sans", Arial, sans-serif' dominant-baseline="central">7</text>
<text x="963" y="23" font-size="10" font-weight="bold" text-anchor="middle" fill="#161616" transform="rotate(-90 963 23)" style='font-family:"Liberation Sans", Arial, sans-serif' dominant-baseline="central">8</text>
<rect x="1031.7" y="18.8" width="34.1" height="266.2" fill="#c6c4bf"/>
<rect x="1046" y="18.8" width="1" height="260.2" fill="#d4d2cd"/>
<rect x="1031.7" y="279" width="34.1" height="6" fill="#bab8b3"/>
<rect x="1031.7" y="285" width="34.1" height="35.5" fill="#c4c2bd"/>
<rect x="1030.6" y="18.8" width="1.4" height="266.2" fill="#d2d0cb"/>
<line x1="1032.2" y1="267" x2="1051.7" y2="267" stroke="#34322e" stroke-width="1"/>
<line x1="1032.2" y1="263.96" x2="1045.7" y2="263.96" stroke="#34322e" stroke-width="1.3"/>
<line x1="1032.2" y1="260.92" x2="1045.7" y2="260.92" stroke="#34322e" stroke-width="1.3"/>
<line x1="1032.2" y1="257.88" x2="1045.7" y2="257.88" stroke="#34322e" stroke-width="1.3"/>
<line x1="1032.2" y1="254.84" x2="1045.7" y2="254.84" stroke="#34322e" stroke-width="1.3"/>
<line x1="1032.2" y1="251.8" x2="1048.2" y2="251.8" stroke="#34322e" stroke-width="1.3"/>
<line x1="1032.2" y1="248.76" x2="1045.7" y2="248.76" stroke="#34322e" stroke-width="1.3"/>
<line x1="1032.2" y1="245.72" x2="1045.7" y2="245.72" stroke="#34322e" stroke-width="1.3"/>
<line x1="1032.2" y1="242.68" x2="1045.7" y2="242.68" stroke="#34322e" stroke-width="1.3"/>
<line x1="1032.2" y1="239.64" x2="1045.7" y2="239.64" stroke="#34322e" stroke-width="1.3"/>
<line x1="1032.2" y1="236.6" x2="1051.7" y2="236.6" stroke="#34322e" stroke-width="1"/>
<line x1="1032.2" y1="233.56" x2="1045.7" y2="233.56" stroke="#34322e" stroke-width="1.3"/>
<line x1="1032.2" y1="230.52" x2="1045.7" y2="230.52" stroke="#34322e" stroke-width="1.3"/>
<line x1="1032.2" y1="227.48" x2="1045.7" y2="227.48" stroke="#34322e" stroke-width="1.3"/>
<line x1="1032.2" y1="224.44" x2="1045.7" y2="224.44" stroke="#34322e" stroke-width="1.3"/>
<line x1="1032.2" y1="221.4" x2="1048.2" y2="221.4" stroke="#34322e" stroke-width="1.3"/>
<line x1="1032.2" y1="218.36" x2="1045.7" y2="218.36" stroke="#34322e" stroke-width="1.3"/>
<line x1="1032.2" y1="215.32" x2="1045.7" y2="215.32" stroke="#34322e" stroke-width="1.3"/>
<line x1="1032.2" y1="212.28" x2="1045.7" y2="212.28" stroke="#34322e" stroke-width="1.3"/>
<line x1="1032.2" y1="209.24" x2="1045.7" y2="209.24" stroke="#34322e" stroke-width="1.3"/>
<line x1="1032.2" y1="206.2" x2="1051.7" y2="206.2" stroke="#34322e" stroke-width="1"/>
<line x1="1032.2" y1="203.16" x2="1045.7" y2="203.16" stroke="#34322e" stroke-width="1.3"/>
<line x1="1032.2" y1="200.12" x2="1045.7" y2="200.12" stroke="#34322e" stroke-width="1.3"/>
<line x1="1032.2" y1="197.08" x2="1045.7" y2="197.08" stroke="#34322e" stroke-width="1.3"/>
<line x1="1032.2" y1="194.04" x2="1045.7" y2="194.04" stroke="#34322e" stroke-width="1.3"/>
<line x1="1032.2" y1="191" x2="1048.2" y2="191" stroke="#34322e" stroke-width="1.3"/>
<line x1="1032.2" y1="187.96" x2="1045.7" y2="187.96" stroke="#34322e" stroke-width="1.3"/>
<line x1="1032.2" y1="184.92" x2="1045.7" y2="184.92" stroke="#34322e" stroke-width="1.3"/>
<line x1="1032.2" y1="181.88" x2="1045.7" y2="181.88" stroke="#34322e" stroke-width="1.3"/>
<line x1="1032.2" y1="178.84" x2="1045.7" y2="178.84" stroke="#34322e" stroke-width="1.3"/>
<line x1="1032.2" y1="175.8" x2="1051.7" y2="175.8" stroke="#34322e" stroke-width="1"/>
<line x1="1032.2" y1="172.76" x2="1045.7" y2="172.76" stroke="#34322e" stroke-width="1.3"/>
<line x1="1032.2" y1="169.72" x2="1045.7" y2="169.72" stroke="#34322e" stroke-width="1.3"/>
<line x1="1032.2" y1="166.68" x2="1045.7" y2="166.68" stroke="#34322e" stroke-width="1.3"/>
<line x1="1032.2" y1="163.64" x2="1045.7" y2="163.64" stroke="#34322e" stroke-width="1.3"/>
<line x1="1032.2" y1="160.6" x2="1048.2" y2="160.6" stroke="#34322e" stroke-width="1.3"/>
<line x1="1032.2" y1="157.56" x2="1045.7" y2="157.56" stroke="#34322e" stroke-width="1.3"/>
<line x1="1032.2" y1="154.52" x2="1045.7" y2="154.52" stroke="#34322e" stroke-width="1.3"/>
<line x1="1032.2" y1="151.48" x2="1045.7" y2="151.48" stroke="#34322e" stroke-width="1.3"/>
<line x1="1032.2" y1="148.44" x2="1045.7" y2="148.44" stroke="#34322e" stroke-width="1.3"/>
<line x1="1032.2" y1="145.4" x2="1051.7" y2="145.4" stroke="#34322e" stroke-width="1"/>
<line x1="1032.2" y1="142.36" x2="1045.7" y2="142.36" stroke="#34322e" stroke-width="1.3"/>
<line x1="1032.2" y1="139.32" x2="1045.7" y2="139.32" stroke="#34322e" stroke-width="1.3"/>
<line x1="1032.2" y1="136.28" x2="1045.7" y2="136.28" stroke="#34322e" stroke-width="1.3"/>
<line x1="1032.2" y1="133.24" x2="1045.7" y2="133.24" stroke="#34322e" stroke-width="1.3"/>
<line x1="1032.2" y1="130.2" x2="1048.2" y2="130.2" stroke="#34322e" stroke-width="1.3"/>
<line x1="1032.2" y1="127.16" x2="1045.7" y2="127.16" stroke="#34322e" stroke-width="1.3"/>
<line x1="1032.2" y1="124.12" x2="1045.7" y2="124.12" stroke="#34322e" stroke-width="1.3"/>
<line x1="1032.2" y1="121.08" x2="1045.7" y2="121.08" stroke="#34322e" stroke-width="1.3"/>
<line x1="1032.2" y1="118.04" x2="1045.7" y2="118.04" stroke="#34322e" stroke-width="1.3"/>
<line x1="1032.2" y1="115" x2="1051.7" y2="115" stroke="#34322e" stroke-width="1"/>
<line x1="1032.2" y1="111.96" x2="1045.7" y2="111.96" stroke="#34322e" stroke-width="1.3"/>
<line x1="1032.2" y1="108.92" x2="1045.7" y2="108.92" stroke="#34322e" stroke-width="1.3"/>
<line x1="1032.2" y1="105.88" x2="1045.7" y2="105.88" stroke="#34322e" stroke-width="1.3"/>
<line x1="1032.2" y1="102.84" x2="1045.7" y2="102.84" stroke="#34322e" stroke-width="1.3"/>
<line x1="1032.2" y1="99.8" x2="1048.2" y2="99.8" stroke="#34322e" stroke-width="1.3"/>
<line x1="1032.2" y1="96.76" x2="1045.7" y2="96.76" stroke="#34322e" stroke-width="1.3"/>
<line x1="1032.2" y1="93.72" x2="1045.7" y2="93.72" stroke="#34322e" stroke-width="1.3"/>
<line x1="1032.2" y1="90.68" x2="1045.7" y2="90.68" stroke="#34322e" stroke-width="1.3"/>
<line x1="1032.2" y1="87.64" x2="1045.7" y2="87.64" stroke="#34322e" stroke-width="1.3"/>
<line x1="1032.2" y1="84.6" x2="1051.7" y2="84.6" stroke="#34322e" stroke-width="1"/>
<line x1="1032.2" y1="81.56" x2="1045.7" y2="81.56" stroke="#34322e" stroke-width="1.3"/>
<line x1="1032.2" y1="78.52" x2="1045.7" y2="78.52" stroke="#34322e" stroke-width="1.3"/>
<line x1="1032.2" y1="75.48" x2="1045.7" y2="75.48" stroke="#34322e" stroke-width="1.3"/>
<line x1="1032.2" y1="72.44" x2="1045.7" y2="72.44" stroke="#34322e" stroke-width="1.3"/>
<line x1="1032.2" y1="69.4" x2="1048.2" y2="69.4" stroke="#34322e" stroke-width="1.3"/>
<line x1="1032.2" y1="66.36" x2="1045.7" y2="66.36" stroke="#34322e" stroke-width="1.3"/>
<line x1="1032.2" y1="63.32" x2="1045.7" y2="63.32" stroke="#34322e" stroke-width="1.3"/>
<line x1="1032.2" y1="60.28" x2="1045.7" y2="60.28" stroke="#34322e" stroke-width="1.3"/>
<line x1="1032.2" y1="57.24" x2="1045.7" y2="57.24" stroke="#34322e" stroke-width="1.3"/>
<line x1="1032.2" y1="54.2" x2="1051.7" y2="54.2" stroke="#34322e" stroke-width="1"/>
<line x1="1032.2" y1="51.16" x2="1045.7" y2="51.16" stroke="#34322e" stroke-width="1.3"/>
<line x1="1032.2" y1="48.12" x2="1045.7" y2="48.12" stroke="#34322e" stroke-width="1.3"/>
<line x1="1032.2" y1="45.08" x2="1045.7" y2="45.08" stroke="#34322e" stroke-width="1.3"/>
<line x1="1032.2" y1="42.04" x2="1045.7" y2="42.04" stroke="#34322e" stroke-width="1.3"/>
<line x1="1032.2" y1="39" x2="1048.2" y2="39" stroke="#34322e" stroke-width="1.3"/>
<line x1="1032.2" y1="35.96" x2="1045.7" y2="35.96" stroke="#34322e" stroke-width="1.3"/>
<line x1="1032.2" y1="32.92" x2="1045.7" y2="32.92" stroke="#34322e" stroke-width="1.3"/>
<line x1="1032.2" y1="29.88" x2="1045.7" y2="29.88" stroke="#34322e" stroke-width="1.3"/>
<line x1="1032.2" y1="26.84" x2="1045.7" y2="26.84" stroke="#34322e" stroke-width="1.3"/>
<line x1="1032.2" y1="23.8" x2="1051.7" y2="23.8" stroke="#34322e" stroke-width="1"/>
<line x1="1032.2" y1="20.76" x2="1045.7" y2="20.76" stroke="#34322e" stroke-width="1.3"/>
<text x="1056.5" y="267" font-size="10" font-weight="bold" text-anchor="middle" fill="#161616" transform="rotate(-90 1056.5 267)" style='font-family:"Liberation Sans", Arial, sans-serif' dominant-baseline="central">0</text>
<text x="1056.5" y="239.1" font-size="9.5" font-weight="bold" text-anchor="start" fill="#161616" transform="rotate(-90 1056.5 239.1)" style='font-family:"Liberation Sans", Arial, sans-serif' dominant-baseline="central">1cm</text>
<text x="1056.5" y="206.2" font-size="10" font-weight="bold" text-anchor="middle" fill="#161616" transform="rotate(-90 1056.5 206.2)" style='font-family:"Liberation Sans", Arial, sans-serif' dominant-baseline="central">2</text>
<text x="1056.5" y="175.8" font-size="10" font-weight="bold" text-anchor="middle" fill="#161616" transform="rotate(-90 1056.5 175.8)" style='font-family:"Liberation Sans", Arial, sans-serif' dominant-baseline="central">3</text>
<text x="1056.5" y="145.4" font-size="10" font-weight="bold" text-anchor="middle" fill="#161616" transform="rotate(-90 1056.5 145.4)" style='font-family:"Liberation Sans", Arial, sans-serif' dominant-baseline="central">4</text>
<text x="1056.5" y="115" font-size="10" font-weight="bold" text-anchor="middle" fill="#161616" transform="rotate(-90 1056.5 115)" style='font-family:"Liberation Sans", Arial, sans-serif' dominant-baseline="central">5</text>
<text x="1056.5" y="84.6" font-size="10" font-weight="bold" text-anchor="middle" fill="#161616" transform="rotate(-90 1056.5 84.6)" style='font-family:"Liberation Sans", Arial, sans-serif' dominant-baseline="central">6</text>
<text x="1056.5" y="54.2" font-size="10" font-weight="bold" text-anchor="middle" fill="#161616" transform="rotate(-90 1056.5 54.2)" style='font-family:"Liberation Sans", Arial, sans-serif' dominant-baseline="central">7</text>
<text x="1056.5" y="23.8" font-size="10" font-weight="bold" text-anchor="middle" fill="#161616" transform="rotate(-90 1056.5 23.8)" style='font-family:"Liberation Sans", Arial, sans-serif' dominant-baseline="central">8</text>
<rect x="1123.7" y="18.9" width="30.1" height="261.1" fill="#c6c4bf"/>
<rect x="1138" y="18.9" width="1" height="255.1" fill="#d4d2cd"/>
<rect x="1123.7" y="274" width="30.1" height="6" fill="#bab8b3"/>
<rect x="1123.7" y="280" width="30.1" height="40.5" fill="#c4c2bd"/>
<rect x="1122.6" y="18.9" width="1.4" height="261.1" fill="#d2d0cb"/>
<line x1="1124.2" y1="262.7" x2="1143.7" y2="262.7" stroke="#34322e" stroke-width="1"/>
<line x1="1124.2" y1="259.53" x2="1137.7" y2="259.53" stroke="#34322e" stroke-width="1.3"/>
<line x1="1124.2" y1="256.36" x2="1137.7" y2="256.36" stroke="#34322e" stroke-width="1.3"/>
<line x1="1124.2" y1="253.19" x2="1137.7" y2="253.19" stroke="#34322e" stroke-width="1.3"/>
<line x1="1124.2" y1="250.02" x2="1137.7" y2="250.02" stroke="#34322e" stroke-width="1.3"/>
<line x1="1124.2" y1="246.85" x2="1140.2" y2="246.85" stroke="#34322e" stroke-width="1.3"/>
<line x1="1124.2" y1="243.68" x2="1137.7" y2="243.68" stroke="#34322e" stroke-width="1.3"/>
<line x1="1124.2" y1="240.51" x2="1137.7" y2="240.51" stroke="#34322e" stroke-width="1.3"/>
<line x1="1124.2" y1="237.34" x2="1137.7" y2="237.34" stroke="#34322e" stroke-width="1.3"/>
<line x1="1124.2" y1="234.17" x2="1137.7" y2="234.17" stroke="#34322e" stroke-width="1.3"/>
<line x1="1124.2" y1="231" x2="1143.7" y2="231" stroke="#34322e" stroke-width="1"/>
<line x1="1124.2" y1="227.83" x2="1137.7" y2="227.83" stroke="#34322e" stroke-width="1.3"/>
<line x1="1124.2" y1="224.66" x2="1137.7" y2="224.66" stroke="#34322e" stroke-width="1.3"/>
<line x1="1124.2" y1="221.49" x2="1137.7" y2="221.49" stroke="#34322e" stroke-width="1.3"/>
<line x1="1124.2" y1="218.32" x2="1137.7" y2="218.32" stroke="#34322e" stroke-width="1.3"/>
<line x1="1124.2" y1="215.15" x2="1140.2" y2="215.15" stroke="#34322e" stroke-width="1.3"/>
<line x1="1124.2" y1="211.98" x2="1137.7" y2="211.98" stroke="#34322e" stroke-width="1.3"/>
<line x1="1124.2" y1="208.81" x2="1137.7" y2="208.81" stroke="#34322e" stroke-width="1.3"/>
<line x1="1124.2" y1="205.64" x2="1137.7" y2="205.64" stroke="#34322e" stroke-width="1.3"/>
<line x1="1124.2" y1="202.47" x2="1137.7" y2="202.47" stroke="#34322e" stroke-width="1.3"/>
<line x1="1124.2" y1="199.3" x2="1143.7" y2="199.3" stroke="#34322e" stroke-width="1"/>
<line x1="1124.2" y1="196.13" x2="1137.7" y2="196.13" stroke="#34322e" stroke-width="1.3"/>
<line x1="1124.2" y1="192.96" x2="1137.7" y2="192.96" stroke="#34322e" stroke-width="1.3"/>
<line x1="1124.2" y1="189.79" x2="1137.7" y2="189.79" stroke="#34322e" stroke-width="1.3"/>
<line x1="1124.2" y1="186.62" x2="1137.7" y2="186.62" stroke="#34322e" stroke-width="1.3"/>
<line x1="1124.2" y1="183.45" x2="1140.2" y2="183.45" stroke="#34322e" stroke-width="1.3"/>
<line x1="1124.2" y1="180.28" x2="1137.7" y2="180.28" stroke="#34322e" stroke-width="1.3"/>
<line x1="1124.2" y1="177.11" x2="1137.7" y2="177.11" stroke="#34322e" stroke-width="1.3"/>
<line x1="1124.2" y1="173.94" x2="1137.7" y2="173.94" stroke="#34322e" stroke-width="1.3"/>
<line x1="1124.2" y1="170.77" x2="1137.7" y2="170.77" stroke="#34322e" stroke-width="1.3"/>
<line x1="1124.2" y1="167.6" x2="1143.7" y2="167.6" stroke="#34322e" stroke-width="1"/>
<line x1="1124.2" y1="164.43" x2="1137.7" y2="164.43" stroke="#34322e" stroke-width="1.3"/>
<line x1="1124.2" y1="161.26" x2="1137.7" y2="161.26" stroke="#34322e" stroke-width="1.3"/>
<line x1="1124.2" y1="158.09" x2="1137.7" y2="158.09" stroke="#34322e" stroke-width="1.3"/>
<line x1="1124.2" y1="154.92" x2="1137.7" y2="154.92" stroke="#34322e" stroke-width="1.3"/>
<line x1="1124.2" y1="151.75" x2="1140.2" y2="151.75" stroke="#34322e" stroke-width="1.3"/>
<line x1="1124.2" y1="148.58" x2="1137.7" y2="148.58" stroke="#34322e" stroke-width="1.3"/>
<line x1="1124.2" y1="145.41" x2="1137.7" y2="145.41" stroke="#34322e" stroke-width="1.3"/>
<line x1="1124.2" y1="142.24" x2="1137.7" y2="142.24" stroke="#34322e" stroke-width="1.3"/>
<line x1="1124.2" y1="139.07" x2="1137.7" y2="139.07" stroke="#34322e" stroke-width="1.3"/>
<line x1="1124.2" y1="135.9" x2="1143.7" y2="135.9" stroke="#34322e" stroke-width="1"/>
<line x1="1124.2" y1="132.73" x2="1137.7" y2="132.73" stroke="#34322e" stroke-width="1.3"/>
<line x1="1124.2" y1="129.56" x2="1137.7" y2="129.56" stroke="#34322e" stroke-width="1.3"/>
<line x1="1124.2" y1="126.39" x2="1137.7" y2="126.39" stroke="#34322e" stroke-width="1.3"/>
<line x1="1124.2" y1="123.22" x2="1137.7" y2="123.22" stroke="#34322e" stroke-width="1.3"/>
<line x1="1124.2" y1="120.05" x2="1140.2" y2="120.05" stroke="#34322e" stroke-width="1.3"/>
<line x1="1124.2" y1="116.88" x2="1137.7" y2="116.88" stroke="#34322e" stroke-width="1.3"/>
<line x1="1124.2" y1="113.71" x2="1137.7" y2="113.71" stroke="#34322e" stroke-width="1.3"/>
<line x1="1124.2" y1="110.54" x2="1137.7" y2="110.54" stroke="#34322e" stroke-width="1.3"/>
<line x1="1124.2" y1="107.37" x2="1137.7" y2="107.37" stroke="#34322e" stroke-width="1.3"/>
<line x1="1124.2" y1="104.2" x2="1143.7" y2="104.2" stroke="#34322e" stroke-width="1"/>
<line x1="1124.2" y1="101.03" x2="1137.7" y2="101.03" stroke="#34322e" stroke-width="1.3"/>
<line x1="1124.2" y1="97.86" x2="1137.7" y2="97.86" stroke="#34322e" stroke-width="1.3"/>
<line x1="1124.2" y1="94.69" x2="1137.7" y2="94.69" stroke="#34322e" stroke-width="1.3"/>
<line x1="1124.2" y1="91.52" x2="1137.7" y2="91.52" stroke="#34322e" stroke-width="1.3"/>
<line x1="1124.2" y1="88.35" x2="1140.2" y2="88.35" stroke="#34322e" stroke-width="1.3"/>
<line x1="1124.2" y1="85.18" x2="1137.7" y2="85.18" stroke="#34322e" stroke-width="1.3"/>
<line x1="1124.2" y1="82.01" x2="1137.7" y2="82.01" stroke="#34322e" stroke-width="1.3"/>
<line x1="1124.2" y1="78.84" x2="1137.7" y2="78.84" stroke="#34322e" stroke-width="1.3"/>
<line x1="1124.2" y1="75.67" x2="1137.7" y2="75.67" stroke="#34322e" stroke-width="1.3"/>
<line x1="1124.2" y1="72.5" x2="1143.7" y2="72.5" stroke="#34322e" stroke-width="1"/>
<line x1="1124.2" y1="69.33" x2="1137.7" y2="69.33" stroke="#34322e" stroke-width="1.3"/>
<line x1="1124.2" y1="66.16" x2="1137.7" y2="66.16" stroke="#34322e" stroke-width="1.3"/>
<line x1="1124.2" y1="62.99" x2="1137.7" y2="62.99" stroke="#34322e" stroke-width="1.3"/>
<line x1="1124.2" y1="59.82" x2="1137.7" y2="59.82" stroke="#34322e" stroke-width="1.3"/>
<line x1="1124.2" y1="56.65" x2="1140.2" y2="56.65" stroke="#34322e" stroke-width="1.3"/>
<line x1="1124.2" y1="53.48" x2="1137.7" y2="53.48" stroke="#34322e" stroke-width="1.3"/>
<line x1="1124.2" y1="50.31" x2="1137.7" y2="50.31" stroke="#34322e" stroke-width="1.3"/>
<line x1="1124.2" y1="47.14" x2="1137.7" y2="47.14" stroke="#34322e" stroke-width="1.3"/>
<line x1="1124.2" y1="43.97" x2="1137.7" y2="43.97" stroke="#34322e" stroke-width="1.3"/>
<line x1="1124.2" y1="40.8" x2="1143.7" y2="40.8" stroke="#34322e" stroke-width="1"/>
<line x1="1124.2" y1="37.63" x2="1137.7" y2="37.63" stroke="#34322e" stroke-width="1.3"/>
<line x1="1124.2" y1="34.46" x2="1137.7" y2="34.46" stroke="#34322e" stroke-width="1.3"/>
<line x1="1124.2" y1="31.29" x2="1137.7" y2="31.29" stroke="#34322e" stroke-width="1.3"/>
<line x1="1124.2" y1="28.12" x2="1137.7" y2="28.12" stroke="#34322e" stroke-width="1.3"/>
<line x1="1124.2" y1="24.95" x2="1140.2" y2="24.95" stroke="#34322e" stroke-width="1.3"/>
<line x1="1124.2" y1="21.78" x2="1137.7" y2="21.78" stroke="#34322e" stroke-width="1.3"/>
<text x="1146.5" y="262.7" font-size="10" font-weight="bold" text-anchor="middle" fill="#161616" transform="rotate(-90 1146.5 262.7)" style='font-family:"Liberation Sans", Arial, sans-serif' dominant-baseline="central">0</text>
<text x="1146.5" y="233.5" font-size="9.5" font-weight="bold" text-anchor="start" fill="#161616" transform="rotate(-90 1146.5 233.5)" style='font-family:"Liberation Sans", Arial, sans-serif' dominant-baseline="central">1cm</text>
<text x="1146.5" y="199.3" font-size="10" font-weight="bold" text-anchor="middle" fill="#161616" transform="rotate(-90 1146.5 199.3)" style='font-family:"Liberation Sans", Arial, sans-serif' dominant-baseline="central">2</text>
<text x="1146.5" y="167.6" font-size="10" font-weight="bold" text-anchor="middle" fill="#161616" transform="rotate(-90 1146.5 167.6)" style='font-family:"Liberation Sans", Arial, sans-serif' dominant-baseline="central">3</text>
<text x="1146.5" y="135.9" font-size="10" font-weight="bold" text-anchor="middle" fill="#161616" transform="rotate(-90 1146.5 135.9)" style='font-family:"Liberation Sans", Arial, sans-serif' dominant-baseline="central">4</text>
<text x="1146.5" y="104.2" font-size="10" font-weight="bold" text-anchor="middle" fill="#161616" transform="rotate(-90 1146.5 104.2)" style='font-family:"Liberation Sans", Arial, sans-serif' dominant-baseline="central">5</text>
<text x="1146.5" y="72.5" font-size="10" font-weight="bold" text-anchor="middle" fill="#161616" transform="rotate(-90 1146.5 72.5)" style='font-family:"Liberation Sans", Arial, sans-serif' dominant-baseline="central">6</text>
<text x="1146.5" y="40.8" font-size="10" font-weight="bold" text-anchor="middle" fill="#161616" transform="rotate(-90 1146.5 40.8)" style='font-family:"Liberation Sans", Arial, sans-serif' dominant-baseline="central">7</text>
<rect x="823.3" y="18.8" width="41" height="2.8" fill="#1a1a1a"/>
<g filter="url(#soft)">
<polygon points="760.75,48 760.45,52 760.75,58 761.2,70 760.9,100 760.25,112 758.5,118 764.5,118 765.75,112 766.1,100 766.4,70 767.25,58 767.95,52 767.25,48" fill="#c6a084" opacity="1.0"/>
<polygon points="758.2,118 757.65,150 756.4,185 755.4,215 755.1,235 761.9,235 762.2,215 762.6,185 763.35,150 764.2,118" fill="#b08462" opacity="1.0"/>
<polygon points="756.05,195 755.3,215 755,235 762,235 762.3,215 762.55,195" fill="#94603e" opacity="0.7"/>
<polygon points="755.1,235 755.25,250 755.4,262 754,274 762,274 761.6,262 761.75,250 761.9,235" fill="#7a4c32" opacity="1.0"/>
<ellipse cx="760.7" cy="122.6" rx="4" ry="7.4" fill="#3c1e18" opacity="1.0"/>
<ellipse cx="760.2" cy="160" rx="3.8" ry="5.4" fill="#4a3024" opacity="1.0"/>
<ellipse cx="759.1" cy="174.5" rx="3.9" ry="5.5" fill="#4a3024" opacity="1.0"/>
<ellipse cx="758" cy="229" rx="3.9" ry="8.5" fill="#4e3222" opacity="1.0"/>
<path d="M751,273 C746,276 745,285 746,293 C748,302 754,307 762,308.5 C770,309.5 778,307.5 781,302 C782.5,298 780,293.5 776,294 C772.5,294.5 771.5,299.5 767.5,299.5 C763.5,299.5 762,294 762,286 L761.5,273 Z" fill="#4e3c2a"/>
<ellipse cx="753.5" cy="290" rx="5.5" ry="13" fill="#433322" opacity="1.0"/>
<ellipse cx="839.4" cy="123.9" rx="1.3" ry="1.8" fill="#7a2a1a" opacity="1.0"/>
<ellipse cx="845.5" cy="119.5" rx="1.2" ry="2.2" fill="#7a2a1a" opacity="1.0"/>
<polygon points="844.6,126.4 844.7,140 844.5,153 843.75,168 851.25,168 850.7,153 850.5,140 850.6,126.4" fill="#cbb39c" opacity="1.0"/>
<polygon points="846.1,140 845.85,153 845,168 850,168 849.35,153 849.1,140" fill="#9a6a5a" opacity="0.6"/>
<ellipse cx="853.5" cy="184" rx="4" ry="11" fill="#7a7a90" opacity="0.8"/>
<polygon points="843,168 842.5,196 840.75,230 840.5,260 839.5,275 837.5,284 854.5,284 854.5,275 851.5,260 851.25,230 852.5,196 852,168" fill="#4e2834" opacity="1.0"/>
<ellipse cx="847.5" cy="182" rx="4.8" ry="13" fill="#261a26" opacity="1.0"/>
<ellipse cx="860" cy="296" rx="5" ry="10" fill="#8e8ea0" opacity="0.7"/>
<path d="M836,283 C829,284 826.5,290 827.5,296 C828.5,302 834,305 840,304 C843,306.5 849,307 852.5,303 C856,298 855.5,290 852,285.5 C848,281.5 841,281.5 836,283 Z" fill="#3e2030"/>
<ellipse cx="835" cy="294" rx="7" ry="8.5" fill="#46243a" opacity="1.0"/>
<polygon points="937.45,105 936.5,112 936.5,140 936.3,166 941.3,166 941.5,140 941.5,112 940.95,105" fill="#c9a072" opacity="1.0"/>
<polygon points="930.5,166 929.5,196 930.8,205 929,225 927.3,240 928,255 928.5,270 940.5,270 940,255 940.3,240 940,225 939.8,205 938.5,196 939.5,166" fill="#42302c" opacity="1.0"/>
<polygon points="930.5,210 928,235 931.5,255 934.5,255 932,235 933.5,210" fill="#7a5a4c" opacity="0.7"/>
<ellipse cx="933.4" cy="182" rx="5" ry="14" fill="#161010" opacity="1.0"/>
<path d="M930,272 C922,275 920,281 920.5,288 C921,293 921.5,298 924,300 C927,300.5 929,296 930.5,293 C934,296 941,297.5 946,294 C951,290 951.5,281 948,276 C944,271 936,270 930,272 Z" fill="#3e2823"/>
<ellipse cx="937" cy="283.5" rx="12" ry="11" fill="#37231f" opacity="1.0"/>
<polygon points="1012.75,101 1012,106 1012,130 1011.5,157 1016.5,157 1016.6,130 1017,106 1016.25,101" fill="#caa47e" opacity="1.0"/>
<ellipse cx="1019.5" cy="178" rx="3.5" ry="14" fill="#6a6a80" opacity="0.7"/>
<polygon points="1009.75,157 1009.7,175 1009.75,194 1018.25,194 1018.7,175 1018.25,157" fill="#1e1c24" opacity="1.0"/>
<polygon points="1009.5,194 1009.25,217 1009.3,232 1009.8,262 1008,270 1017,270 1017,262 1018.3,232 1018.75,217 1018.5,194" fill="#a0744f" opacity="1.0"/>
<polygon points="1010,217 1009.8,232 1017.8,232 1018,217" fill="#4a2a22" opacity="1.0"/>
<path d="M1004,267.5 C997,270 994,280 994.5,290 C995.5,298 1002,302 1010,305 C1017,307.5 1024,311 1031,310.5 C1035.5,309 1035.5,304 1033,300 C1028,292 1022,283 1019,272 C1016,267 1010,266 1004,267.5 Z" fill="#24161a"/>
<polygon points="1106.25,87.6 1105.55,95 1104.25,130 1103.25,163 1102.5,180 1109.5,180 1109.75,163 1110.75,130 1112.05,95 1111.75,87.6" fill="#a46c44" opacity="1.0"/>
<polygon points="1106.05,110 1104.9,125 1103.75,163 1109.25,163 1109.9,125 1109.55,110" fill="#2a1814" opacity="1.0"/>
<polygon points="1101.5,180 1099.5,195 1100.5,220 1102,250 1103,262 1103.5,272 1103,279 1117,279 1116.5,272 1114,262 1112,250 1110.5,220 1109.5,195 1109.5,180" fill="#a2683c" opacity="1.0"/>
<polygon points="1099.5,185 1100,215 1110,215 1109.5,185" fill="#8a5030" opacity="0.5"/>
<path d="M1077,178 C1081,176 1086,173 1090,169 C1092,167 1094,166.5 1094.5,168 C1093,172 1088,177 1082,180.5 C1080,181.5 1077.5,181 1077,178 Z" fill="#c8965c"/>
<ellipse cx="1093" cy="288.5" rx="8" ry="10.5" fill="#3a1a1a" opacity="1.0"/>
<ellipse cx="1112" cy="293" rx="17" ry="13" fill="#3e1e1c" opacity="1.0"/>
</g>
<text x="848.5" y="92" font-size="12.5" font-weight="normal" text-anchor="middle" fill="#2c2c2c" transform="rotate(-90 848.5 92)" style='font-family:"Liberation Sans", Arial, sans-serif' dominant-baseline="central">V<tspan font-size="9.5">71</tspan></text>
<text x="931.5" y="79.5" font-size="12.5" font-weight="normal" text-anchor="middle" fill="#2c2c2c" transform="rotate(-90 931.5 79.5)" style='font-family:"Liberation Sans", Arial, sans-serif' dominant-baseline="central">C<tspan font-size="10">53</tspan></text>
<text x="1018" y="83" font-size="12.5" font-weight="normal" text-anchor="middle" fill="#2c2c2c" transform="rotate(-90 1018 83)" style='font-family:"Liberation Sans", Arial, sans-serif' dominant-baseline="central">C<tspan font-size="10">64</tspan></text>
<text x="1114.5" y="40.5" font-size="12.5" font-weight="normal" text-anchor="middle" fill="#2c2c2c" transform="rotate(-90 1114.5 40.5)" style='font-family:"Liberation Sans", Arial, sans-serif' dominant-baseline="central">V<tspan font-size="10">94</tspan></text>
<text x="773" y="351.3" font-size="20" font-weight="bold" text-anchor="middle" fill="#000">Control</text>
<text x="859.7" y="351.3" font-size="20" font-weight="bold" text-anchor="middle" fill="#000">Model</text>
<text x="940.7" y="351.3" font-size="20" font-weight="bold" text-anchor="middle" fill="#000">Positive</text>
<text x="1025" y="351.3" font-size="20" font-weight="bold" text-anchor="middle" fill="#000">JE-L</text>
<text x="1110.7" y="351.3" font-size="20" font-weight="bold" text-anchor="middle" fill="#000">JE-H</text>
<line x1="1411" y1="102.56" x2="1411" y2="120.94" stroke="#000" stroke-width="2.1"/>
<line x1="1399" y1="102.56" x2="1423" y2="102.56" stroke="#000" stroke-width="2.6"/>
<rect x="1388.6" y="122.04" width="44.8" height="200.36" fill="#ffffff" stroke="#000" stroke-width="2.2"/>
<line x1="1483" y1="169.35" x2="1483" y2="174.65" stroke="#000" stroke-width="2.1"/>
<line x1="1471" y1="169.35" x2="1495" y2="169.35" stroke="#000" stroke-width="2.6"/>
<rect x="1460.6" y="175.75" width="44.8" height="146.65" fill="#000000" stroke="#000" stroke-width="2.2"/>
<line x1="1555.5" y1="142.49" x2="1555.5" y2="154.51" stroke="#000" stroke-width="2.1"/>
<line x1="1543.5" y1="142.49" x2="1567.5" y2="142.49" stroke="#000" stroke-width="2.6"/>
<rect x="1533.1" y="155.61" width="44.8" height="166.79" fill="#d4d4d4" stroke="#000" stroke-width="2.2"/>
<line x1="1626.9" y1="147.09" x2="1626.9" y2="152.74" stroke="#000" stroke-width="2.1"/>
<line x1="1614.9" y1="147.09" x2="1638.9" y2="147.09" stroke="#000" stroke-width="2.6"/>
<rect x="1604.5" y="153.84" width="44.8" height="168.56" fill="url(#dotsC2)" stroke="#000" stroke-width="2.2"/>
<line x1="1698.9" y1="124.12" x2="1698.9" y2="133.66" stroke="#000" stroke-width="2.1"/>
<line x1="1686.9" y1="124.12" x2="1710.9" y2="124.12" stroke="#000" stroke-width="2.6"/>
<rect x="1676.5" y="134.76" width="44.8" height="187.64" fill="url(#check)" stroke="#000" stroke-width="2.2"/>
<line x1="1363.4" y1="37.1" x2="1363.4" y2="322.85" stroke="#000" stroke-width="3.1"/>
<line x1="1354" y1="321.3" x2="1748.5" y2="321.3" stroke="#000" stroke-width="3.1"/>
<line x1="1354" y1="321.3" x2="1363.4" y2="321.3" stroke="#000" stroke-width="2.9"/>
<text x="1352.06" y="327.01" font-size="17.3" font-weight="normal" text-anchor="end" fill="#000">0</text>
<line x1="1354" y1="250.62" x2="1363.4" y2="250.62" stroke="#000" stroke-width="2.9"/>
<text x="1352.06" y="256.33" font-size="17.3" font-weight="normal" text-anchor="end" fill="#000">2</text>
<line x1="1354" y1="179.95" x2="1363.4" y2="179.95" stroke="#000" stroke-width="2.9"/>
<text x="1352.06" y="185.66" font-size="17.3" font-weight="normal" text-anchor="end" fill="#000">4</text>
<line x1="1354" y1="109.28" x2="1363.4" y2="109.28" stroke="#000" stroke-width="2.9"/>
<text x="1352.06" y="114.98" font-size="17.3" font-weight="normal" text-anchor="end" fill="#000">6</text>
<line x1="1354" y1="38.6" x2="1363.4" y2="38.6" stroke="#000" stroke-width="2.9"/>
<text x="1352.06" y="44.31" font-size="17.3" font-weight="normal" text-anchor="end" fill="#000">8</text>
<line x1="1411" y1="321.3" x2="1411" y2="330.6" stroke="#000" stroke-width="2.8"/>
<text transform="translate(1411 349.7) scale(1 1.0)" font-size="17.8" font-weight="bold" text-anchor="middle">Control</text>
<line x1="1483" y1="321.3" x2="1483" y2="330.6" stroke="#000" stroke-width="2.8"/>
<text transform="translate(1483 349.7) scale(1 1.0)" font-size="17.8" font-weight="bold" text-anchor="middle">Model</text>
<line x1="1555.5" y1="321.3" x2="1555.5" y2="330.6" stroke="#000" stroke-width="2.8"/>
<text transform="translate(1555.5 349.7) scale(1 1.0)" font-size="17.8" font-weight="bold" text-anchor="middle">Positive</text>
<line x1="1626.9" y1="321.3" x2="1626.9" y2="330.6" stroke="#000" stroke-width="2.8"/>
<text transform="translate(1626.9 349.7) scale(1 1.0)" font-size="17.8" font-weight="bold" text-anchor="middle">JE-L</text>
<line x1="1698.9" y1="321.3" x2="1698.9" y2="330.6" stroke="#000" stroke-width="2.8"/>
<text transform="translate(1698.9 349.7) scale(1 1.0)" font-size="17.8" font-weight="bold" text-anchor="middle">JE-H</text>
<text x="1483" y="157.81" font-size="22.3" font-weight="bold" text-anchor="middle" fill="#000">##</text>
<text x="1547.52" y="134.5" font-size="20.5" font-weight="normal" text-anchor="start" fill="#000" style='font-family:"Liberation Sans", Arial, sans-serif'>**</text>
<text x="1618.92" y="139.3" font-size="20.5" font-weight="normal" text-anchor="start" fill="#000" style='font-family:"Liberation Sans", Arial, sans-serif'>**</text>
<text x="1690.92" y="116.6" font-size="20.5" font-weight="normal" text-anchor="start" fill="#000" style='font-family:"Liberation Sans", Arial, sans-serif'>**</text>
<text x="1550.7" y="25.9" font-size="16.8" font-weight="bold" text-anchor="middle" fill="#000">Colon length</text>
<text x="1298.3" y="179.6" font-size="16" font-weight="bold" text-anchor="middle" fill="#000" transform="rotate(-90 1298.3 179.6)">(cm)</text>
<text x="1288.6" y="44.4" font-size="40" font-weight="bold" text-anchor="start" fill="#000">C</text>
<line x1="139.35" y1="636.22" x2="139.35" y2="645.76" stroke="#000" stroke-width="2.1"/>
<line x1="127.35" y1="636.22" x2="151.35" y2="636.22" stroke="#000" stroke-width="2.6"/>
<rect x="115.7" y="646.86" width="47.3" height="104.04" fill="#ffffff" stroke="#000" stroke-width="2.2"/>
<line x1="215.45" y1="507.91" x2="215.45" y2="539.99" stroke="#000" stroke-width="2.1"/>
<line x1="203.45" y1="507.91" x2="227.45" y2="507.91" stroke="#000" stroke-width="2.6"/>
<rect x="191.8" y="541.09" width="47.3" height="209.81" fill="#000000" stroke="#000" stroke-width="2.2"/>
<line x1="293.05" y1="604.72" x2="293.05" y2="620.91" stroke="#000" stroke-width="2.1"/>
<line x1="281.05" y1="604.72" x2="305.05" y2="604.72" stroke="#000" stroke-width="2.6"/>
<rect x="269.4" y="622.01" width="47.3" height="128.89" fill="#d4d4d4" stroke="#000" stroke-width="2.2"/>
<line x1="369.85" y1="602.7" x2="369.85" y2="610.5" stroke="#000" stroke-width="2.1"/>
<line x1="357.85" y1="602.7" x2="381.85" y2="602.7" stroke="#000" stroke-width="2.6"/>
<rect x="346.2" y="611.6" width="47.3" height="139.3" fill="url(#dotsW)" stroke="#000" stroke-width="2.2"/>
<line x1="446.55" y1="597.79" x2="446.55" y2="602.99" stroke="#000" stroke-width="2.1"/>
<line x1="434.55" y1="597.79" x2="458.55" y2="597.79" stroke="#000" stroke-width="2.6"/>
<rect x="422.9" y="604.09" width="47.3" height="146.81" fill="url(#check)" stroke="#000" stroke-width="2.2"/>
<line x1="87.9" y1="459.3" x2="87.9" y2="751.4" stroke="#000" stroke-width="3.2"/>
<line x1="77.9" y1="749.8" x2="497.5" y2="749.8" stroke="#000" stroke-width="3.2"/>
<line x1="77.9" y1="749.8" x2="87.9" y2="749.8" stroke="#000" stroke-width="2.9"/>
<text x="75.23" y="756.17" font-size="19.3" font-weight="normal" text-anchor="end" fill="#000">0</text>
<line x1="77.9" y1="692" x2="87.9" y2="692" stroke="#000" stroke-width="2.9"/>
<text x="75.23" y="698.37" font-size="19.3" font-weight="normal" text-anchor="end" fill="#000">20</text>
<line x1="77.9" y1="634.2" x2="87.9" y2="634.2" stroke="#000" stroke-width="2.9"/>
<text x="75.23" y="640.57" font-size="19.3" font-weight="normal" text-anchor="end" fill="#000">40</text>
<line x1="77.9" y1="576.4" x2="87.9" y2="576.4" stroke="#000" stroke-width="2.9"/>
<text x="75.23" y="582.77" font-size="19.3" font-weight="normal" text-anchor="end" fill="#000">60</text>
<line x1="77.9" y1="518.6" x2="87.9" y2="518.6" stroke="#000" stroke-width="2.9"/>
<text x="75.23" y="524.97" font-size="19.3" font-weight="normal" text-anchor="end" fill="#000">80</text>
<line x1="77.9" y1="460.8" x2="87.9" y2="460.8" stroke="#000" stroke-width="2.9"/>
<text x="75.23" y="467.17" font-size="19.3" font-weight="normal" text-anchor="end" fill="#000">100</text>
<line x1="139.35" y1="749.8" x2="139.35" y2="760.1" stroke="#000" stroke-width="2.8"/>
<text transform="translate(139.35 783.6) scale(1 1.03)" font-size="19.2" font-weight="bold" text-anchor="middle">Control</text>
<line x1="215.45" y1="749.8" x2="215.45" y2="760.1" stroke="#000" stroke-width="2.8"/>
<text transform="translate(215.45 783.6) scale(1 1.03)" font-size="19.2" font-weight="bold" text-anchor="middle">Model</text>
<line x1="293.05" y1="749.8" x2="293.05" y2="760.1" stroke="#000" stroke-width="2.8"/>
<text transform="translate(293.05 783.6) scale(1 1.03)" font-size="19.2" font-weight="bold" text-anchor="middle">Positive</text>
<line x1="369.85" y1="749.8" x2="369.85" y2="760.1" stroke="#000" stroke-width="2.8"/>
<text transform="translate(369.85 783.6) scale(1 1.03)" font-size="19.2" font-weight="bold" text-anchor="middle">JE-L</text>
<line x1="446.55" y1="749.8" x2="446.55" y2="760.1" stroke="#000" stroke-width="2.8"/>
<text transform="translate(446.55 783.6) scale(1 1.03)" font-size="19.2" font-weight="bold" text-anchor="middle">JE-H</text>
<text x="215.45" y="501.32" font-size="24" font-weight="bold" text-anchor="middle" fill="#000">##</text>
<text x="285.14" y="600.87" font-size="20.3" font-weight="normal" text-anchor="start" fill="#000" style='font-family:"Liberation Sans", Arial, sans-serif'>**</text>
<text x="365.95" y="597.76" font-size="20" font-weight="normal" text-anchor="start" fill="#000" style='font-family:"Liberation Sans", Arial, sans-serif'>*</text>
<text x="442.65" y="589.76" font-size="20" font-weight="normal" text-anchor="start" fill="#000" style='font-family:"Liberation Sans", Arial, sans-serif'>*</text>
<text x="284.2" y="449.1" font-size="18.6" font-weight="bold" text-anchor="middle" fill="#000">IL-1β</text>
<text x="28.4" y="605.7" font-size="18.9" font-weight="bold" text-anchor="middle" fill="#000" transform="rotate(-90 28.4 605.7)">(pg/mL)</text>
<text x="6.2" y="459.2" font-size="40" font-weight="bold" text-anchor="start" fill="#000">D</text>
<line x1="637.3" y1="573.16" x2="637.3" y2="592.38" stroke="#000" stroke-width="2.1"/>
<line x1="625.3" y1="573.16" x2="649.3" y2="573.16" stroke="#000" stroke-width="2.6"/>
<rect x="613.9" y="593.48" width="46.8" height="157.22" fill="#ffffff" stroke="#000" stroke-width="2.2"/>
<line x1="712.3" y1="512.05" x2="712.3" y2="523.52" stroke="#000" stroke-width="2.1"/>
<line x1="700.3" y1="512.05" x2="724.3" y2="512.05" stroke="#000" stroke-width="2.6"/>
<rect x="688.9" y="524.62" width="46.8" height="226.08" fill="#000000" stroke="#000" stroke-width="2.2"/>
<line x1="787.5" y1="535" x2="787.5" y2="549.06" stroke="#000" stroke-width="2.1"/>
<line x1="775.5" y1="535" x2="799.5" y2="535" stroke="#000" stroke-width="2.6"/>
<rect x="764.1" y="550.16" width="46.8" height="200.54" fill="#d4d4d4" stroke="#000" stroke-width="2.2"/>
<line x1="862.8" y1="526.97" x2="862.8" y2="544.47" stroke="#000" stroke-width="2.1"/>
<line x1="850.8" y1="526.97" x2="874.8" y2="526.97" stroke="#000" stroke-width="2.6"/>
<rect x="839.4" y="545.57" width="46.8" height="205.13" fill="url(#dotsW)" stroke="#000" stroke-width="2.2"/>
<line x1="937.8" y1="559.96" x2="937.8" y2="575.16" stroke="#000" stroke-width="2.1"/>
<line x1="925.8" y1="559.96" x2="949.8" y2="559.96" stroke="#000" stroke-width="2.6"/>
<rect x="914.4" y="576.26" width="46.8" height="174.44" fill="url(#check)" stroke="#000" stroke-width="2.2"/>
<line x1="586.6" y1="461.2" x2="586.6" y2="751.2" stroke="#000" stroke-width="3.2"/>
<line x1="577.3" y1="749.6" x2="989.2" y2="749.6" stroke="#000" stroke-width="3.2"/>
<line x1="577.3" y1="749.6" x2="586.6" y2="749.6" stroke="#000" stroke-width="2.9"/>
<text x="574.62" y="755.84" font-size="18.9" font-weight="bold" text-anchor="end" fill="#000">0</text>
<line x1="577.3" y1="692.22" x2="586.6" y2="692.22" stroke="#000" stroke-width="2.9"/>
<text x="574.62" y="698.46" font-size="18.9" font-weight="bold" text-anchor="end" fill="#000">20</text>
<line x1="577.3" y1="634.84" x2="586.6" y2="634.84" stroke="#000" stroke-width="2.9"/>
<text x="574.62" y="641.08" font-size="18.9" font-weight="bold" text-anchor="end" fill="#000">40</text>
<line x1="577.3" y1="577.46" x2="586.6" y2="577.46" stroke="#000" stroke-width="2.9"/>
<text x="574.62" y="583.7" font-size="18.9" font-weight="bold" text-anchor="end" fill="#000">60</text>
<line x1="577.3" y1="520.08" x2="586.6" y2="520.08" stroke="#000" stroke-width="2.9"/>
<text x="574.62" y="526.32" font-size="18.9" font-weight="bold" text-anchor="end" fill="#000">80</text>
<line x1="577.3" y1="462.7" x2="586.6" y2="462.7" stroke="#000" stroke-width="2.9"/>
<text x="574.62" y="468.94" font-size="18.9" font-weight="bold" text-anchor="end" fill="#000">100</text>
<line x1="637.3" y1="749.6" x2="637.3" y2="759.9" stroke="#000" stroke-width="2.8"/>
<text transform="translate(637.3 783.9) scale(1 1.03)" font-size="18.9" font-weight="bold" text-anchor="middle">Control</text>
<line x1="712.3" y1="749.6" x2="712.3" y2="759.9" stroke="#000" stroke-width="2.8"/>
<text transform="translate(712.3 783.9) scale(1 1.03)" font-size="18.9" font-weight="bold" text-anchor="middle">Model</text>
<line x1="787.5" y1="749.6" x2="787.5" y2="759.9" stroke="#000" stroke-width="2.8"/>
<text transform="translate(787.5 783.9) scale(1 1.03)" font-size="18.9" font-weight="bold" text-anchor="middle">Positive</text>
<line x1="862.8" y1="749.6" x2="862.8" y2="759.9" stroke="#000" stroke-width="2.8"/>
<text transform="translate(862.8 783.9) scale(1 1.03)" font-size="18.9" font-weight="bold" text-anchor="middle">JE-L</text>
<line x1="937.8" y1="749.6" x2="937.8" y2="759.9" stroke="#000" stroke-width="2.8"/>
<text transform="translate(937.8 783.9) scale(1 1.03)" font-size="18.9" font-weight="bold" text-anchor="middle">JE-H</text>
<text x="712.3" y="498.19" font-size="23.5" font-weight="bold" text-anchor="middle" fill="#000">##</text>
<text x="926.89" y="554.86" font-size="28" font-weight="normal" text-anchor="start" fill="#000" style='font-family:"Liberation Sans", Arial, sans-serif'>**</text>
<text x="782" y="452.2" font-size="18.6" font-weight="bold" text-anchor="middle" fill="#000">IL-6</text>
<text x="528.4" y="605.7" font-size="18.9" font-weight="bold" text-anchor="middle" fill="#000" transform="rotate(-90 528.4 605.7)">(pg/mL)</text>
<text x="508.6" y="459.2" font-size="40" font-weight="bold" text-anchor="start" fill="#000">E</text>
<line x1="1136.35" y1="505.28" x2="1136.35" y2="520.52" stroke="#000" stroke-width="2.1"/>
<line x1="1124.35" y1="505.28" x2="1148.35" y2="505.28" stroke="#000" stroke-width="2.6"/>
<rect x="1112.7" y="521.62" width="47.3" height="229.48" fill="#ffffff" stroke="#000" stroke-width="2.2"/>
<line x1="1212.55" y1="552.95" x2="1212.55" y2="577.26" stroke="#000" stroke-width="2.1"/>
<line x1="1200.55" y1="552.95" x2="1224.55" y2="552.95" stroke="#000" stroke-width="2.6"/>
<rect x="1188.9" y="578.37" width="47.3" height="172.74" fill="#000000" stroke="#000" stroke-width="2.2"/>
<line x1="1288.75" y1="557.19" x2="1288.75" y2="579" stroke="#000" stroke-width="2.1"/>
<line x1="1276.75" y1="557.19" x2="1300.75" y2="557.19" stroke="#000" stroke-width="2.6"/>
<rect x="1265.1" y="580.1" width="47.3" height="171" fill="#d4d4d4" stroke="#000" stroke-width="2.2"/>
<line x1="1364.85" y1="512.61" x2="1364.85" y2="557.58" stroke="#000" stroke-width="2.1"/>
<line x1="1352.85" y1="512.61" x2="1376.85" y2="512.61" stroke="#000" stroke-width="2.6"/>
<rect x="1341.2" y="558.68" width="47.3" height="192.42" fill="url(#dotsW)" stroke="#000" stroke-width="2.2"/>
<line x1="1440.75" y1="549.67" x2="1440.75" y2="577.07" stroke="#000" stroke-width="2.1"/>
<line x1="1428.75" y1="549.67" x2="1452.75" y2="549.67" stroke="#000" stroke-width="2.6"/>
<rect x="1417.1" y="578.17" width="47.3" height="172.93" fill="url(#check)" stroke="#000" stroke-width="2.2"/>
<line x1="1085.3" y1="459" x2="1085.3" y2="751.6" stroke="#000" stroke-width="3.2"/>
<line x1="1075.1" y1="750" x2="1493.6" y2="750" stroke="#000" stroke-width="3.2"/>
<line x1="1075.1" y1="750" x2="1085.3" y2="750" stroke="#000" stroke-width="2.9"/>
<text x="1072.73" y="756.37" font-size="19.3" font-weight="normal" text-anchor="end" fill="#000">0</text>
<line x1="1075.1" y1="653.5" x2="1085.3" y2="653.5" stroke="#000" stroke-width="2.9"/>
<text x="1072.73" y="659.87" font-size="19.3" font-weight="normal" text-anchor="end" fill="#000">500</text>
<line x1="1075.1" y1="557" x2="1085.3" y2="557" stroke="#000" stroke-width="2.9"/>
<text x="1072.73" y="563.37" font-size="19.3" font-weight="normal" text-anchor="end" fill="#000">1000</text>
<line x1="1075.1" y1="460.5" x2="1085.3" y2="460.5" stroke="#000" stroke-width="2.9"/>
<text x="1072.73" y="466.87" font-size="19.3" font-weight="normal" text-anchor="end" fill="#000">1500</text>
<line x1="1136.35" y1="750" x2="1136.35" y2="760.3" stroke="#000" stroke-width="2.8"/>
<text transform="translate(1136.35 784.3) scale(1 1.03)" font-size="18.9" font-weight="bold" text-anchor="middle">Control</text>
<line x1="1212.55" y1="750" x2="1212.55" y2="760.3" stroke="#000" stroke-width="2.8"/>
<text transform="translate(1212.55 784.3) scale(1 1.03)" font-size="18.9" font-weight="bold" text-anchor="middle">Model</text>
<line x1="1288.75" y1="750" x2="1288.75" y2="760.3" stroke="#000" stroke-width="2.8"/>
<text transform="translate(1288.75 784.3) scale(1 1.03)" font-size="18.9" font-weight="bold" text-anchor="middle">Positive</text>
<line x1="1364.85" y1="750" x2="1364.85" y2="760.3" stroke="#000" stroke-width="2.8"/>
<text transform="translate(1364.85 784.3) scale(1 1.03)" font-size="18.9" font-weight="bold" text-anchor="middle">JE-L</text>
<line x1="1440.75" y1="750" x2="1440.75" y2="760.3" stroke="#000" stroke-width="2.8"/>
<text transform="translate(1440.75 784.3) scale(1 1.03)" font-size="18.9" font-weight="bold" text-anchor="middle">JE-H</text>
<text x="1212.55" y="543.99" font-size="23.5" font-weight="bold" text-anchor="middle" fill="#000">##</text>
<text x="1286" y="449.1" font-size="18.6" font-weight="bold" text-anchor="middle" fill="#000">IL-10</text>
<text x="1023.4" y="605.5" font-size="18.9" font-weight="bold" text-anchor="middle" fill="#000" transform="rotate(-90 1023.4 605.5)">(pg/mL)</text>
<text x="997.6" y="459.2" font-size="40" font-weight="bold" text-anchor="start" fill="#000">F</text>
<line x1="1652.9" y1="562.45" x2="1652.9" y2="572.24" stroke="#000" stroke-width="2.1"/>
<line x1="1640.9" y1="562.45" x2="1664.9" y2="562.45" stroke="#000" stroke-width="2.6"/>
<rect x="1630" y="573.34" width="45.8" height="178.06" fill="#ffffff" stroke="#000" stroke-width="2.2"/>
<line x1="1727.3" y1="527.47" x2="1727.3" y2="532.48" stroke="#000" stroke-width="2.1"/>
<line x1="1715.3" y1="527.47" x2="1739.3" y2="527.47" stroke="#000" stroke-width="2.6"/>
<rect x="1704.4" y="533.58" width="45.8" height="217.82" fill="#000000" stroke="#000" stroke-width="2.2"/>
<line x1="1802" y1="560.05" x2="1802" y2="584.32" stroke="#000" stroke-width="2.1"/>
<line x1="1790" y1="560.05" x2="1814" y2="560.05" stroke="#000" stroke-width="2.6"/>
<rect x="1779.1" y="585.42" width="45.8" height="165.98" fill="#d4d4d4" stroke="#000" stroke-width="2.2"/>
<line x1="1876.7" y1="545.81" x2="1876.7" y2="564.95" stroke="#000" stroke-width="2.1"/>
<line x1="1864.7" y1="545.81" x2="1888.7" y2="545.81" stroke="#000" stroke-width="2.6"/>
<rect x="1853.8" y="566.05" width="45.8" height="185.35" fill="url(#dotsW)" stroke="#000" stroke-width="2.2"/>
<line x1="1950.2" y1="580.56" x2="1950.2" y2="607.33" stroke="#000" stroke-width="2.1"/>
<line x1="1938.2" y1="580.56" x2="1962.2" y2="580.56" stroke="#000" stroke-width="2.6"/>
<rect x="1927.3" y="608.43" width="45.8" height="142.97" fill="url(#check)" stroke="#000" stroke-width="2.2"/>
<line x1="1603.1" y1="464" x2="1603.1" y2="752" stroke="#000" stroke-width="3.4"/>
<line x1="1592.8" y1="750.3" x2="2001.4" y2="750.3" stroke="#000" stroke-width="3.4"/>
<line x1="1592.8" y1="750.3" x2="1603.1" y2="750.3" stroke="#000" stroke-width="2.9"/>
<text x="1589.78" y="757.03" font-size="20.4" font-weight="normal" text-anchor="end" fill="#000">0</text>
<line x1="1592.8" y1="693.34" x2="1603.1" y2="693.34" stroke="#000" stroke-width="2.9"/>
<text x="1589.78" y="700.07" font-size="20.4" font-weight="normal" text-anchor="end" fill="#000">50</text>
<line x1="1592.8" y1="636.38" x2="1603.1" y2="636.38" stroke="#000" stroke-width="2.9"/>
<text x="1589.78" y="643.11" font-size="20.4" font-weight="normal" text-anchor="end" fill="#000">100</text>
<line x1="1592.8" y1="579.42" x2="1603.1" y2="579.42" stroke="#000" stroke-width="2.9"/>
<text x="1589.78" y="586.15" font-size="20.4" font-weight="normal" text-anchor="end" fill="#000">150</text>
<line x1="1592.8" y1="522.46" x2="1603.1" y2="522.46" stroke="#000" stroke-width="2.9"/>
<text x="1589.78" y="529.19" font-size="20.4" font-weight="normal" text-anchor="end" fill="#000">200</text>
<line x1="1592.8" y1="465.5" x2="1603.1" y2="465.5" stroke="#000" stroke-width="2.9"/>
<text x="1589.78" y="472.23" font-size="20.4" font-weight="normal" text-anchor="end" fill="#000">250</text>
<line x1="1652.9" y1="750.3" x2="1652.9" y2="760.6" stroke="#000" stroke-width="2.8"/>
<text transform="translate(1652.9 785.6) scale(1 1.06)" font-size="19.8" font-weight="bold" text-anchor="middle">Control</text>
<line x1="1727.3" y1="750.3" x2="1727.3" y2="760.6" stroke="#000" stroke-width="2.8"/>
<text transform="translate(1727.3 785.6) scale(1 1.06)" font-size="19.8" font-weight="bold" text-anchor="middle">Model</text>
<line x1="1802" y1="750.3" x2="1802" y2="760.6" stroke="#000" stroke-width="2.8"/>
<text transform="translate(1802 785.6) scale(1 1.06)" font-size="19.8" font-weight="bold" text-anchor="middle">Positive</text>
<line x1="1876.7" y1="750.3" x2="1876.7" y2="760.6" stroke="#000" stroke-width="2.8"/>
<text transform="translate(1876.7 785.6) scale(1 1.06)" font-size="19.8" font-weight="bold" text-anchor="middle">JE-L</text>
<line x1="1950.2" y1="750.3" x2="1950.2" y2="760.6" stroke="#000" stroke-width="2.8"/>
<text transform="translate(1950.2 785.6) scale(1 1.06)" font-size="19.8" font-weight="bold" text-anchor="middle">JE-H</text>
<text x="1727.3" y="509.94" font-size="22.5" font-weight="bold" text-anchor="middle" fill="#000">##</text>
<text x="1798.39" y="555.63" font-size="18.5" font-weight="normal" text-anchor="start" fill="#000" style='font-family:"Liberation Sans", Arial, sans-serif'>*</text>
<text x="1873.09" y="539.03" font-size="18.5" font-weight="normal" text-anchor="start" fill="#000" style='font-family:"Liberation Sans", Arial, sans-serif'>*</text>
<text x="1942.68" y="576.28" font-size="19.3" font-weight="normal" text-anchor="start" fill="#000" style='font-family:"Liberation Sans", Arial, sans-serif'>**</text>
<text x="1799" y="450.5" font-size="18.6" font-weight="bold" text-anchor="middle" fill="#000">TNF-a</text>
<text x="1547.8" y="608" font-size="19.5" font-weight="bold" text-anchor="middle" fill="#000" transform="rotate(-90 1547.8 608)">(pg/mL)</text>
<text x="1510.4" y="459.2" font-size="40" font-weight="bold" text-anchor="start" fill="#000">G</text>
</svg>
</body></html>
